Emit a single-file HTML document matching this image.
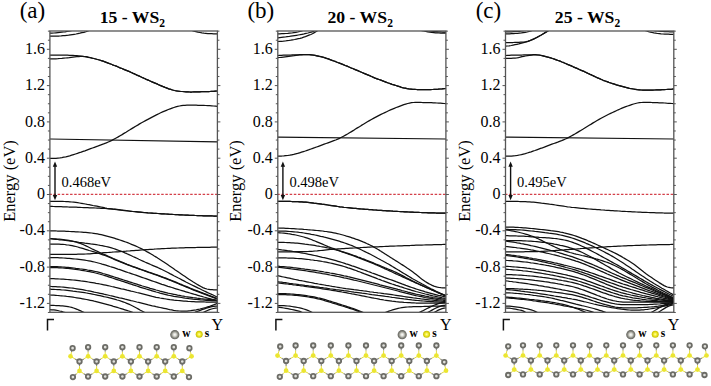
<!DOCTYPE html><html><head><meta charset="utf-8"><style>html,body{margin:0;padding:0;background:#fff;width:711px;height:386px;overflow:hidden}svg{display:block}text{font-family:"Liberation Serif",serif}</style></head><body>
<svg width="711" height="386" viewBox="0 0 711 386">
<defs>
<clipPath id="clipa"><rect x="49.9" y="31.0" width="167.5" height="281.3"/></clipPath>
<clipPath id="clipb"><rect x="277.8" y="31.0" width="168.1" height="281.3"/></clipPath>
<clipPath id="clipc"><rect x="505.5" y="31.0" width="168.3" height="281.3"/></clipPath>
<radialGradient id="gW" cx="0.5" cy="0.5" r="0.5"><stop offset="0" stop-color="#ffffff"/><stop offset="0.35" stop-color="#d8d8d0"/><stop offset="0.7" stop-color="#8a8a82"/><stop offset="1" stop-color="#5e5e58"/></radialGradient>
<radialGradient id="gS" cx="0.5" cy="0.5" r="0.5"><stop offset="0" stop-color="#ffffb0"/><stop offset="0.45" stop-color="#f4ee30"/><stop offset="1" stop-color="#c4bc00"/></radialGradient>
</defs>
<text x="19.7" y="17.7" font-size="23">(a)</text>
<text x="99.7" y="22.8" font-size="17.7" font-weight="bold">15 - WS<tspan font-size="11.5" dy="4">2</tspan></text>
<g clip-path="url(#clipa)" fill="none" stroke="#111" stroke-width="1.25" stroke-linecap="round" stroke-linejoin="round">
<path d="M49.9 33.2 L51.9 33.1 L53.9 33.0 L55.9 32.8 L57.9 32.6 L59.9 32.4 L61.9 32.2 L63.6 32.0 L65.2 31.8 L66.9 31.5 L68.6 31.2 L70.2 30.9 L71.9 30.5 L73.9 29.9 L75.9 29.3 L77.9 28.6 L79.9 27.8 L81.9 27.0"/>
<path d="M49.9 36.1 L51.8 36.1 L53.6 36.1 L55.5 36.1 L57.4 36.0 L59.3 36.0 L61.2 35.9 L63.0 35.7 L64.9 35.6 L66.8 35.4 L68.6 35.2 L70.5 34.9 L72.3 34.6 L74.2 34.3 L76.0 34.0 L77.9 33.6 L79.9 33.2 L81.9 32.7 L83.9 32.3 L85.9 31.7 L87.9 31.0 L89.9 30.2 L91.9 29.2 L93.9 28.2 L95.9 27.0"/>
<path d="M181.9 27.0 L183.9 27.8 L185.9 28.5 L187.9 29.3 L189.9 29.9 L191.9 30.5 L193.9 31.1 L195.9 31.6 L197.9 32.1 L199.9 32.5 L201.9 32.9 L203.9 33.2 L205.8 33.4 L207.8 33.6 L209.7 33.7 L211.7 33.7 L213.6 33.8 L215.6 33.8 L217.5 33.8"/>
<path d="M49.9 55.1 L51.9 55.1 L53.9 55.1 L55.9 55.1 L57.9 55.1 L59.9 55.1 L61.9 55.1 L63.8 55.1 L65.6 55.2 L67.5 55.2 L69.3 55.3 L71.2 55.3 L73.0 55.4 L74.9 55.5 L76.8 55.6 L78.7 55.8 L80.6 56.0 L82.5 56.3 L84.4 56.6 L86.3 56.9 L88.2 57.3 L90.0 57.6 L91.9 58.1 L93.8 58.5 L95.7 59.0 L97.5 59.5 L99.4 60.0 L101.3 60.6 L103.1 61.2 L105.0 61.9 L106.9 62.6 L108.8 63.3 L110.7 64.0 L112.5 64.8 L114.4 65.5 L116.3 66.2 L118.2 67.0 L120.1 67.8 L121.9 68.5 L123.8 69.3 L125.7 70.1 L127.6 70.9 L129.5 71.7 L131.3 72.5 L133.2 73.4 L135.1 74.2 L137.0 75.1 L138.8 75.9 L140.7 76.8 L142.6 77.7 L144.5 78.5 L146.3 79.4 L148.2 80.2 L150.1 81.0 L152.0 81.8 L153.8 82.6 L155.7 83.4 L157.6 84.2 L159.5 85.1 L161.3 85.8 L163.2 86.6 L165.1 87.4 L167.0 88.1 L168.8 88.8 L170.7 89.4 L172.6 90.0 L174.5 90.5 L176.5 90.9 L178.4 91.2 L180.3 91.4 L182.2 91.5 L184.2 91.7 L186.1 91.8 L188.0 91.9 L190.0 92.0 L191.9 92.0 L193.8 91.9 L195.7 91.9 L197.7 91.9 L199.6 91.8 L201.6 91.7 L203.6 91.7 L205.5 91.6 L207.5 91.5 L209.5 91.5 L211.5 91.4 L213.4 91.3 L215.4 91.1 L217.4 91.0"/>
<path d="M49.9 58.9 L51.9 58.9 L53.9 58.8 L55.9 58.8 L57.9 58.7 L59.9 58.5 L61.9 58.4 L63.8 58.2 L65.6 58.0 L67.5 57.8 L69.3 57.6 L71.2 57.3 L73.0 57.1 L74.9 56.9 L76.8 56.7 L78.7 56.6 L80.6 56.4 L82.5 56.4 L84.4 56.5 L86.3 56.7 L88.2 57.1 L90.0 57.5 L91.9 58.0 L93.8 58.5 L95.7 59.0 L97.5 59.5 L99.4 60.0 L101.3 60.6 L103.1 61.2 L105.0 61.9 L106.9 62.6 L108.8 63.3 L110.7 64.0 L112.5 64.8 L114.4 65.5 L116.3 66.2 L118.2 67.0 L120.1 67.8 L121.9 68.5 L123.8 69.3 L125.7 70.1 L127.6 70.9 L129.5 71.7 L131.3 72.5 L133.2 73.4 L135.1 74.2 L137.0 75.1 L138.8 75.9 L140.7 76.8 L142.6 77.7 L144.5 78.5 L146.3 79.4 L148.2 80.2 L150.1 81.0 L152.0 81.8 L153.8 82.6 L155.7 83.4 L157.6 84.2 L159.5 85.1 L161.3 85.8 L163.2 86.6 L165.1 87.4 L167.0 88.1 L168.8 88.8 L170.7 89.4 L172.6 90.0 L174.5 90.5 L176.5 90.9 L178.4 91.2 L180.3 91.4 L182.2 91.5 L184.2 91.7 L186.1 91.8 L188.0 91.9 L190.0 92.0 L191.9 92.0 L193.8 91.9 L195.7 91.9 L197.7 91.9 L199.6 91.8 L201.6 91.7 L203.6 91.7 L205.5 91.6 L207.5 91.5 L209.5 91.5 L211.5 91.4 L213.4 91.3 L215.4 91.1 L217.4 91.0"/>
<path d="M49.9 158.4 L51.9 158.4 L53.9 158.4 L55.9 158.3 L57.9 158.1 L59.9 157.9 L61.9 157.6 L63.8 157.2 L65.8 156.8 L67.8 156.3 L69.7 155.8 L71.7 155.2 L73.6 154.6 L75.5 154.0 L77.4 153.4 L79.3 152.7 L81.2 152.1 L83.1 151.4 L84.9 150.8 L86.8 150.1 L88.7 149.4 L90.6 148.7 L92.5 148.0 L94.4 147.3 L96.3 146.6 L98.3 145.9 L100.3 145.1 L102.3 144.4 L104.3 143.7 L106.3 142.9 L108.3 142.0 L110.3 141.1 L112.3 140.1 L114.3 139.0 L116.2 138.0 L118.2 136.9 L120.1 135.7 L122.1 134.6 L124.0 133.4 L126.0 132.2 L127.9 131.0 L129.9 129.8 L131.8 128.6 L133.8 127.4 L135.7 126.2 L137.7 125.1 L139.6 123.9 L141.6 122.8 L143.5 121.7 L145.5 120.6 L147.4 119.6 L149.3 118.6 L151.2 117.6 L153.1 116.6 L155.0 115.6 L156.9 114.6 L158.8 113.7 L160.7 112.8 L162.6 111.9 L164.5 111.1 L166.4 110.3 L168.3 109.5 L170.2 108.8 L172.1 108.1 L173.9 107.5 L175.8 106.9 L177.6 106.4 L179.5 106.0 L181.3 105.7 L183.2 105.4 L185.0 105.3 L186.9 105.2 L188.8 105.2 L190.6 105.2 L192.5 105.2 L194.3 105.2 L196.2 105.2 L198.0 105.3 L199.9 105.3 L201.8 105.4 L203.8 105.4 L205.7 105.5 L207.7 105.6 L209.6 105.7 L211.6 105.8 L213.5 106.0 L215.5 106.1 L217.4 106.3"/>
<path d="M49.90 139.00 L217.50 141.80"/>
<path d="M49.9 201.3 L51.7 201.3 L53.5 201.3 L55.4 201.3 L57.2 201.3 L59.0 201.3 L60.8 201.4 L62.6 201.4 L64.4 201.5 L66.3 201.6 L68.1 201.7 L69.9 201.8 L71.8 202.0 L73.7 202.2 L75.7 202.4 L77.6 202.7 L79.5 203.0 L81.4 203.3 L83.4 203.7 L85.3 204.0 L87.2 204.4 L89.1 204.7 L91.1 205.1 L93.0 205.5 L94.9 205.8 L96.9 206.2 L98.9 206.6 L100.9 207.0 L102.9 207.4 L104.9 207.9 L106.9 208.3 L108.9 208.6 L110.9 208.9 L112.9 209.2 L114.8 209.4 L116.8 209.7 L118.7 209.9 L120.7 210.1 L122.6 210.4 L124.6 210.6 L126.5 210.8 L128.5 211.0 L130.4 211.3 L132.4 211.5 L134.3 211.7 L136.2 211.9 L138.2 212.1 L140.2 212.2 L142.1 212.4 L144.1 212.6 L146.0 212.7 L147.9 212.9 L149.9 213.0 L151.9 213.1 L153.9 213.3 L155.9 213.4 L157.9 213.5 L159.8 213.6 L161.8 213.8 L163.8 213.9 L165.8 214.0 L167.8 214.1 L169.8 214.3 L171.8 214.4 L173.8 214.5 L175.7 214.6 L177.7 214.7 L179.7 214.8 L181.7 214.9 L183.7 215.0 L185.7 215.1 L187.7 215.2 L189.7 215.3 L191.7 215.4 L193.6 215.4 L195.6 215.5 L197.6 215.6 L199.6 215.7 L201.6 215.7 L203.6 215.8 L205.6 215.8 L207.6 215.9 L209.5 215.9 L211.5 215.9 L213.5 216.0 L215.5 216.0 L217.5 216.0"/>
<path d="M49.9 206.4 L51.8 206.4 L53.6 206.5 L55.5 206.6 L57.4 206.6 L59.3 206.7 L61.2 206.7 L63.0 206.8 L64.9 206.8 L66.8 206.9 L68.7 207.0 L70.5 207.0 L72.4 207.1 L74.3 207.2 L76.2 207.2 L78.0 207.3 L79.9 207.4 L81.8 207.5 L83.8 207.6 L85.7 207.6 L87.7 207.7 L89.6 207.8 L91.5 207.8 L93.5 207.9 L95.4 208.0 L97.3 208.1 L99.3 208.2 L101.2 208.3 L103.2 208.4 L105.1 208.5 L107.0 208.6 L109.0 208.8 L110.9 208.9 L112.9 209.1 L114.8 209.2 L116.8 209.4 L118.7 209.6 L120.7 209.9 L122.6 210.1 L124.6 210.3 L126.5 210.5 L128.5 210.8 L130.4 211.0 L132.4 211.3 L134.3 211.5 L136.2 211.7 L138.2 211.9 L140.2 212.1 L142.1 212.3 L144.1 212.5 L146.0 212.7 L147.9 212.9 L149.9 213.0 L151.9 213.1 L153.9 213.3 L155.9 213.4 L157.9 213.5 L159.8 213.6 L161.8 213.8 L163.8 213.9 L165.8 214.0 L167.8 214.1 L169.8 214.3 L171.8 214.4 L173.8 214.5 L175.7 214.6 L177.7 214.7 L179.7 214.8 L181.7 214.9 L183.7 215.0 L185.7 215.1 L187.7 215.2 L189.7 215.3 L191.7 215.4 L193.6 215.4 L195.6 215.5 L197.6 215.6 L199.6 215.7 L201.6 215.7 L203.6 215.8 L205.6 215.8 L207.6 215.9 L209.5 215.9 L211.5 215.9 L213.5 216.0 L215.5 216.0 L217.5 216.0"/>
<path d="M49.9 230.8 L51.7 230.8 L53.5 230.9 L55.4 230.9 L57.2 231.0 L59.0 231.0 L60.8 231.1 L62.6 231.1 L64.4 231.2 L66.3 231.3 L68.1 231.4 L69.9 231.5 L71.9 231.6 L73.9 231.7 L75.8 231.8 L77.8 231.9 L79.8 232.0 L81.8 232.1 L83.7 232.3 L85.7 232.4 L87.7 232.6 L89.7 232.8 L91.6 233.0 L93.6 233.3 L95.6 233.6 L97.5 233.9 L99.3 234.3 L101.2 234.7 L103.1 235.1 L104.9 235.6 L106.8 236.1 L108.7 236.6 L110.6 237.1 L112.4 237.6 L114.3 238.2 L116.2 238.8 L118.0 239.4 L119.9 240.0 L121.8 240.6 L123.8 241.3 L125.7 242.0 L127.6 242.7 L129.6 243.5 L131.5 244.3 L133.5 245.1 L135.4 245.9 L137.3 246.8 L139.3 247.7 L141.2 248.6 L143.1 249.5 L144.9 250.5 L146.8 251.6 L148.7 252.6 L150.6 253.7 L152.4 254.8 L154.3 256.0 L156.2 257.1 L158.0 258.3 L159.9 259.5 L161.8 260.7 L163.8 262.0 L165.7 263.3 L167.6 264.6 L169.6 266.0 L171.5 267.3 L173.4 268.6 L175.3 270.0 L177.3 271.3 L179.2 272.6 L181.2 273.9 L183.1 275.3 L185.1 276.6 L187.1 278.0 L189.0 279.3 L191.0 280.6 L192.9 281.8 L194.9 283.0 L196.9 284.2 L198.9 285.4 L200.9 286.5 L202.9 287.6 L204.9 288.4 L206.9 289.0 L208.7 289.3 L210.4 289.6 L212.2 289.7 L213.9 289.8 L215.7 289.8 L217.4 289.8"/>
<path d="M49.9 254.4 L51.8 254.4 L53.6 254.4 L55.5 254.4 L57.4 254.4 L59.3 254.4 L61.2 254.4 L63.0 254.4 L64.9 254.4 L66.8 254.4 L68.7 254.4 L70.5 254.3 L72.4 254.3 L74.3 254.3 L76.2 254.3 L78.0 254.2 L79.9 254.2 L81.9 254.1 L83.9 254.1 L85.9 254.0 L87.9 253.9 L89.9 253.8 L91.9 253.6 L93.9 253.5 L95.9 253.3 L97.9 253.2 L99.9 253.0 L101.9 252.9 L103.9 252.7 L105.9 252.6 L107.9 252.5 L109.9 252.3 L111.9 252.2 L113.9 252.0 L115.9 251.9 L117.9 251.8 L119.9 251.6 L121.9 251.5 L123.9 251.3 L125.9 251.2 L127.9 251.0 L129.9 250.9 L131.9 250.7 L133.9 250.6 L135.9 250.4 L137.9 250.3 L139.9 250.1 L141.9 250.0 L143.9 249.8 L145.9 249.7 L147.9 249.6 L149.9 249.4 L151.9 249.3 L153.9 249.2 L155.9 249.0 L157.9 248.9 L159.9 248.8 L161.9 248.7 L163.9 248.6 L165.9 248.5 L167.9 248.4 L169.9 248.3 L171.9 248.2 L173.8 248.1 L175.8 248.1 L177.8 248.0 L179.8 247.9 L181.8 247.9 L183.8 247.8 L185.7 247.7 L187.7 247.7 L189.7 247.6 L191.7 247.6 L193.7 247.5 L195.7 247.5 L197.7 247.4 L199.6 247.4 L201.6 247.4 L203.6 247.3 L205.6 247.3 L207.6 247.3 L209.6 247.3 L211.5 247.2 L213.5 247.2 L215.5 247.2 L217.5 247.2"/>
<path d="M49.9 238.7 L51.8 238.9 L53.8 239.1 L55.7 239.3 L57.7 239.5 L59.6 239.8 L61.5 240.0 L63.5 240.2 L65.4 240.5 L67.4 240.7 L69.3 241.0 L71.3 241.2 L73.2 241.5 L75.1 241.7 L77.1 242.0 L79.0 242.3 L81.0 242.5 L82.9 242.8 L84.8 243.1 L86.7 243.3 L88.7 243.6 L90.6 243.9 L92.5 244.1 L94.4 244.4 L96.3 244.7 L98.2 245.0 L100.2 245.4 L102.1 245.7 L104.0 246.1 L105.9 246.5 L107.8 246.9 L109.7 247.4 L111.5 247.9 L113.4 248.5 L115.3 249.1 L117.2 249.8 L119.0 250.5 L120.9 251.2 L122.9 252.0 L124.9 252.9 L126.9 253.7 L128.9 254.6 L130.9 255.5 L132.9 256.5 L134.9 257.4 L136.9 258.3 L138.9 259.3 L140.9 260.2 L142.9 261.1 L144.9 262.0 L146.8 262.8 L148.7 263.6 L150.6 264.5 L152.5 265.3 L154.3 266.1 L156.2 266.9 L158.1 267.7 L160.0 268.6 L161.9 269.5 L163.9 270.5 L165.9 271.5 L167.9 272.5 L169.9 273.6 L171.9 274.6 L173.9 275.7 L175.9 276.7 L177.9 277.8 L179.9 278.8 L181.9 279.9 L183.9 280.9 L185.9 282.0 L187.9 283.0 L189.9 284.0 L191.9 285.0 L193.8 285.9 L195.8 286.9 L197.8 287.9 L199.8 288.8 L201.7 289.8 L203.7 290.7 L205.7 291.6 L207.6 292.6 L209.6 293.5 L211.6 294.4 L213.6 295.3 L215.5 296.2 L217.5 297.1"/>
<path d="M49.9 238.7 L51.8 238.7 L53.7 238.8 L55.6 238.8 L57.5 239.0 L59.4 239.1 L61.3 239.3 L63.2 239.5 L65.1 239.8 L67.0 240.1 L68.9 240.4 L70.8 240.8 L72.7 241.2 L74.6 241.7 L76.5 242.2 L78.4 242.8 L80.3 243.4 L82.2 244.2 L84.1 245.0 L86.0 245.9 L87.9 246.8 L89.8 247.7 L91.7 248.7 L93.6 249.6 L95.5 250.5 L97.4 251.4 L99.3 252.3 L101.3 253.2 L103.3 254.1 L105.3 254.9 L107.3 255.8 L109.3 256.7 L111.3 257.6 L113.2 258.5 L115.2 259.3 L117.2 260.2 L119.2 261.0 L121.2 261.9 L123.2 262.7 L125.2 263.5 L127.2 264.3 L129.1 265.0 L131.1 265.8 L133.0 266.5 L134.9 267.2 L136.9 267.9 L138.8 268.6 L140.7 269.3 L142.7 270.0 L144.6 270.6 L146.6 271.3 L148.5 272.0 L150.4 272.6 L152.4 273.3 L154.3 274.0 L156.2 274.7 L158.2 275.4 L160.1 276.1 L162.0 276.8 L164.0 277.5 L165.9 278.2 L167.9 279.0 L169.9 279.8 L171.9 280.6 L173.9 281.4 L175.9 282.2 L177.9 283.0 L179.9 283.9 L181.9 284.7 L183.9 285.6 L185.9 286.4 L187.9 287.2 L189.9 288.0 L191.9 288.8 L193.8 289.6 L195.8 290.3 L197.8 291.1 L199.8 291.9 L201.7 292.6 L203.7 293.4 L205.7 294.1 L207.6 294.9 L209.6 295.6 L211.6 296.4 L213.6 297.1 L215.5 297.9 L217.5 298.6"/>
<path d="M49.9 244.0 L51.7 244.0 L53.6 244.0 L55.4 244.0 L57.3 244.1 L59.1 244.2 L61.0 244.3 L62.8 244.4 L64.7 244.5 L66.5 244.8 L68.4 245.0 L70.2 245.3 L72.1 245.7 L74.0 246.1 L75.9 246.5 L77.8 247.0 L79.7 247.6 L81.6 248.1 L83.5 248.7 L85.4 249.3 L87.3 249.9 L89.2 250.5 L91.1 251.0 L93.0 251.6 L95.0 252.2 L97.0 252.8 L99.0 253.4 L100.9 254.1 L102.9 254.8 L104.9 255.5 L106.8 256.2 L108.6 257.0 L110.5 257.7 L112.3 258.5 L114.2 259.3 L116.0 260.1 L117.9 260.8 L119.8 261.6 L121.6 262.4 L123.5 263.1 L125.3 263.9 L127.2 264.6 L129.1 265.3 L131.1 266.0 L133.0 266.8 L134.9 267.5 L136.9 268.2 L138.8 268.8 L140.7 269.5 L142.7 270.2 L144.6 270.9 L146.6 271.6 L148.5 272.3 L150.4 273.0 L152.4 273.6 L154.3 274.3 L156.2 275.0 L158.2 275.7 L160.1 276.4 L162.0 277.1 L164.0 277.9 L165.9 278.6 L167.9 279.4 L169.9 280.2 L171.9 281.0 L173.9 281.8 L175.9 282.7 L177.9 283.5 L179.9 284.4 L181.9 285.2 L183.9 286.0 L185.9 286.9 L187.9 287.7 L189.9 288.5 L191.9 289.3 L193.8 290.1 L195.8 290.8 L197.8 291.6 L199.8 292.3 L201.7 293.1 L203.7 293.9 L205.7 294.6 L207.6 295.4 L209.6 296.1 L211.6 296.8 L213.6 297.6 L215.5 298.3 L217.5 299.0"/>
<path d="M49.9 257.6 L51.8 257.6 L53.8 257.6 L55.7 257.7 L57.7 257.7 L59.6 257.8 L61.5 257.9 L63.5 258.0 L65.4 258.1 L67.4 258.3 L69.3 258.4 L71.3 258.6 L73.2 258.8 L75.1 259.0 L77.1 259.2 L79.0 259.4 L81.0 259.6 L82.9 259.9 L84.8 260.2 L86.7 260.5 L88.7 260.8 L90.6 261.2 L92.5 261.6 L94.4 262.0 L96.3 262.5 L98.2 263.0 L100.2 263.5 L102.1 264.1 L104.0 264.6 L105.9 265.2 L107.9 265.8 L109.9 266.5 L111.9 267.1 L113.9 267.7 L115.9 268.4 L117.9 269.1 L119.9 269.7 L121.9 270.4 L123.9 271.1 L125.9 271.8 L127.9 272.5 L129.9 273.1 L131.9 273.8 L133.9 274.5 L135.9 275.2 L137.9 275.9 L139.9 276.6 L141.9 277.3 L143.9 278.0 L145.9 278.7 L147.9 279.4 L149.9 280.1 L151.9 280.8 L153.9 281.5 L155.9 282.2 L157.9 282.9 L159.9 283.6 L161.9 284.3 L163.9 284.9 L165.9 285.6 L167.9 286.3 L169.9 286.9 L171.9 287.5 L173.9 288.2 L175.9 288.8 L177.9 289.4 L179.9 290.0 L181.9 290.6 L183.9 291.2 L185.9 291.8 L187.9 292.4 L189.9 293.0 L191.9 293.6 L193.8 294.2 L195.8 294.7 L197.8 295.3 L199.8 295.9 L201.7 296.4 L203.7 297.0 L205.7 297.5 L207.6 298.1 L209.6 298.6 L211.6 299.2 L213.6 299.7 L215.5 300.3 L217.5 300.8"/>
<path d="M49.9 266.6 L51.7 266.6 L53.5 266.6 L55.4 266.7 L57.2 266.7 L59.0 266.8 L60.8 266.9 L62.6 267.0 L64.4 267.1 L66.3 267.3 L68.1 267.4 L69.9 267.6 L71.9 267.8 L73.8 268.0 L75.8 268.3 L77.8 268.5 L79.7 268.8 L81.7 269.0 L83.7 269.3 L85.7 269.6 L87.6 270.0 L89.6 270.3 L91.6 270.7 L93.5 271.1 L95.5 271.5 L97.4 271.9 L99.3 272.4 L101.1 272.9 L103.0 273.5 L104.9 274.0 L106.8 274.6 L108.6 275.2 L110.5 275.8 L112.4 276.4 L114.3 277.0 L116.1 277.6 L118.0 278.2 L119.9 278.8 L121.8 279.4 L123.7 280.0 L125.5 280.6 L127.4 281.2 L129.3 281.8 L131.2 282.4 L133.1 283.0 L134.9 283.6 L136.8 284.2 L138.7 284.8 L140.6 285.4 L142.4 286.0 L144.3 286.5 L146.2 287.1 L148.2 287.7 L150.1 288.3 L152.1 288.8 L154.1 289.4 L156.1 290.0 L158.1 290.5 L160.0 291.1 L162.0 291.6 L164.0 292.1 L165.9 292.6 L167.9 293.1 L169.9 293.5 L171.8 293.9 L173.8 294.3 L175.7 294.7 L177.6 295.1 L179.5 295.4 L181.5 295.8 L183.4 296.1 L185.3 296.5 L187.3 296.8 L189.2 297.1 L191.1 297.4 L193.0 297.7 L195.0 297.9 L196.9 298.2 L198.8 298.4 L200.6 298.7 L202.5 298.9 L204.4 299.1 L206.2 299.2 L208.1 299.4 L209.9 299.5 L211.8 299.7 L213.7 299.8 L215.5 299.9 L217.4 300.0"/>
<path d="M49.9 267.6 L51.7 267.6 L53.5 267.6 L55.4 267.7 L57.2 267.7 L59.0 267.8 L60.8 267.9 L62.6 268.0 L64.4 268.2 L66.3 268.3 L68.1 268.5 L69.9 268.7 L71.9 268.9 L73.8 269.2 L75.8 269.4 L77.8 269.7 L79.7 270.0 L81.7 270.3 L83.7 270.6 L85.7 271.0 L87.6 271.3 L89.6 271.7 L91.6 272.1 L93.5 272.5 L95.5 273.0 L97.4 273.5 L99.3 274.0 L101.1 274.5 L103.0 275.0 L104.9 275.6 L106.8 276.2 L108.6 276.8 L110.5 277.4 L112.4 278.0 L114.3 278.7 L116.1 279.3 L118.0 279.9 L119.9 280.5 L121.8 281.1 L123.7 281.7 L125.5 282.3 L127.4 282.9 L129.3 283.6 L131.2 284.2 L133.1 284.8 L134.9 285.4 L136.8 286.0 L138.7 286.6 L140.6 287.3 L142.4 287.8 L144.3 288.4 L146.2 289.0 L148.2 289.6 L150.1 290.2 L152.1 290.8 L154.1 291.4 L156.1 292.0 L158.1 292.5 L160.0 293.1 L162.0 293.6 L164.0 294.1 L165.9 294.6 L167.9 295.1 L169.9 295.5 L171.8 295.9 L173.8 296.3 L175.7 296.6 L177.6 296.9 L179.5 297.2 L181.5 297.5 L183.4 297.8 L185.3 298.1 L187.3 298.3 L189.2 298.6 L191.1 298.8 L193.0 299.1 L195.0 299.3 L196.9 299.5 L198.8 299.7 L200.6 299.9 L202.5 300.0 L204.4 300.2 L206.2 300.3 L208.1 300.4 L209.9 300.5 L211.8 300.6 L213.7 300.7 L215.5 300.7 L217.4 300.8"/>
<path d="M49.9 278.6 L51.8 278.6 L53.7 278.7 L55.7 278.8 L57.6 278.9 L59.5 279.0 L61.4 279.1 L63.4 279.2 L65.3 279.3 L67.2 279.5 L69.1 279.6 L71.1 279.8 L73.0 280.0 L74.9 280.2 L76.8 280.4 L78.8 280.6 L80.7 280.9 L82.6 281.1 L84.6 281.4 L86.5 281.7 L88.4 282.0 L90.3 282.3 L92.3 282.6 L94.2 282.9 L96.1 283.3 L98.1 283.6 L100.0 284.0 L101.9 284.4 L103.9 284.8 L105.8 285.2 L107.8 285.6 L109.7 286.0 L111.6 286.5 L113.6 286.9 L115.5 287.4 L117.5 287.8 L119.4 288.3 L121.3 288.8 L123.3 289.2 L125.2 289.7 L127.1 290.2 L129.1 290.6 L131.0 291.1 L133.0 291.5 L134.9 292.0 L136.8 292.5 L138.8 292.9 L140.7 293.4 L142.6 293.9 L144.6 294.4 L146.5 294.9 L148.4 295.4 L150.3 295.9 L152.3 296.4 L154.2 296.8 L156.1 297.3 L158.1 297.6 L160.0 298.0 L162.0 298.3 L164.0 298.7 L166.0 299.0 L168.0 299.3 L170.0 299.6 L172.0 299.8 L174.0 300.1 L175.9 300.3 L177.9 300.5 L179.9 300.7 L181.9 300.9 L183.9 301.1 L185.9 301.2 L187.9 301.4 L189.9 301.5 L191.9 301.6 L193.8 301.7 L195.8 301.8 L197.8 301.8 L199.7 301.9 L201.7 301.9 L203.7 301.9 L205.6 302.0 L207.6 302.0 L209.5 302.0 L211.5 302.0 L213.5 302.0 L215.4 302.0 L217.4 302.0"/>
<path d="M49.9 286.4 L51.8 286.5 L53.7 286.5 L55.7 286.6 L57.6 286.8 L59.5 286.9 L61.4 287.0 L63.4 287.2 L65.3 287.4 L67.2 287.6 L69.1 287.8 L71.1 288.0 L73.0 288.2 L74.9 288.5 L76.8 288.8 L78.8 289.1 L80.7 289.4 L82.6 289.7 L84.6 290.1 L86.5 290.5 L88.4 290.8 L90.3 291.2 L92.3 291.6 L94.2 292.1 L96.1 292.5 L98.1 292.9 L100.0 293.3 L101.9 293.7 L103.9 294.2 L105.8 294.6 L107.8 295.0 L109.7 295.5 L111.6 295.9 L113.6 296.4 L115.5 296.9 L117.5 297.3 L119.4 297.8 L121.3 298.2 L123.3 298.7 L125.2 299.2 L127.1 299.6 L129.1 300.1 L131.0 300.6 L133.0 301.0 L134.9 301.5 L136.8 302.0 L138.8 302.4 L140.7 302.9 L142.6 303.4 L144.6 303.9 L146.5 304.4 L148.4 304.9 L150.3 305.3 L152.3 305.8 L154.2 306.2 L156.1 306.7 L158.1 307.1 L160.0 307.5 L161.9 307.9 L163.9 308.3 L165.8 308.7 L167.8 309.2 L169.7 309.6 L171.7 309.9 L173.6 310.3 L175.5 310.6 L177.5 310.8 L179.4 311.0 L181.4 311.2 L183.3 311.2 L185.1 311.2 L187.0 311.1 L188.8 310.9 L190.7 310.7 L192.5 310.4 L194.4 310.1 L196.2 309.8 L198.1 309.4 L199.9 309.0 L201.8 308.5 L203.8 308.0 L205.7 307.5 L207.7 306.9 L209.6 306.3 L211.6 305.6 L213.5 304.9 L215.5 304.1 L217.4 303.3"/>
<path d="M49.9 289.2 L51.8 289.3 L53.7 289.4 L55.7 289.5 L57.6 289.6 L59.5 289.7 L61.4 289.9 L63.4 290.0 L65.3 290.2 L67.2 290.4 L69.1 290.6 L71.1 290.8 L73.0 291.1 L74.9 291.3 L76.8 291.6 L78.8 291.8 L80.7 292.1 L82.6 292.4 L84.6 292.7 L86.5 293.0 L88.4 293.4 L90.3 293.7 L92.3 294.1 L94.2 294.5 L96.1 294.9 L98.1 295.3 L100.0 295.7 L101.9 296.1 L103.8 296.6 L105.7 297.0 L107.7 297.4 L109.6 297.9 L111.5 298.4 L113.4 298.9 L115.3 299.4 L117.2 300.0 L119.2 300.5 L121.1 301.2 L123.0 301.8 L124.9 302.5 L126.8 303.3 L128.8 304.1 L130.7 305.0 L132.7 306.0 L134.6 307.0 L136.5 308.0 L138.5 309.1 L140.4 310.2 L142.4 311.2 L144.3 312.3 L146.2 313.4 L148.0 314.7 L149.9 316.0"/>
<path d="M49.9 295.0 L51.8 295.1 L53.7 295.2 L55.7 295.3 L57.6 295.5 L59.5 295.7 L61.4 295.8 L63.4 296.0 L65.3 296.2 L67.2 296.5 L69.1 296.7 L71.1 296.9 L73.0 297.2 L74.9 297.5 L76.8 297.8 L78.8 298.1 L80.7 298.4 L82.6 298.8 L84.6 299.2 L86.5 299.5 L88.4 299.9 L90.3 300.3 L92.3 300.7 L94.2 301.2 L96.1 301.6 L98.1 302.1 L100.0 302.6 L101.9 303.1 L103.8 303.6 L105.7 304.1 L107.6 304.6 L109.6 305.2 L111.5 305.7 L113.4 306.3 L115.3 306.8 L117.2 307.4 L119.1 308.0 L121.0 308.6 L122.9 309.2 L124.9 309.8 L126.8 310.4 L128.7 311.0 L130.6 311.7 L132.5 312.3 L134.3 313.0 L136.2 314.0 L138.1 315.0 L139.9 316.0"/>
<path d="M49.9 305.4 L51.7 305.4 L53.5 305.4 L55.4 305.5 L57.2 305.5 L59.0 305.6 L60.8 305.8 L62.6 305.9 L64.4 306.1 L66.3 306.4 L68.1 306.7 L69.9 307.0 L71.7 307.4 L73.5 308.0 L75.3 308.6 L77.1 309.3 L78.9 310.1 L80.7 310.9 L82.5 311.7 L84.3 312.5 L86.2 313.5 L88.0 314.7 L89.9 316.0"/>
<path d="M49.9 309.7 L51.8 309.8 L53.8 309.9 L55.7 310.2 L57.7 310.5 L59.6 311.0 L61.5 311.4 L63.5 312.0 L65.4 312.5 L67.0 313.1 L68.7 314.0 L70.3 315.0 L71.9 316.0"/>
<path d="M189.9 316.0 L191.7 314.5 L193.4 313.2 L195.2 312.2 L197.1 311.5 L198.9 310.8 L200.8 310.1 L202.6 309.4 L204.5 308.8 L206.3 308.2 L208.2 307.6 L210.0 307.1 L211.9 306.7 L213.7 306.4 L215.6 306.2 L217.4 306.1"/>
<path d="M198.9 316.0 L200.5 314.5 L202.0 313.2 L203.6 312.2 L205.6 311.3 L207.5 310.5 L209.5 309.7 L211.5 309.0 L213.5 308.5 L215.4 308.1 L217.4 308.0"/>
</g>
<line x1="49.35" y1="194.3" x2="217.40" y2="194.3" stroke="#d4404a" stroke-width="1.2" stroke-dasharray="2.5 1.6425"/>
<rect x="49.90" y="31.00" width="167.50" height="281.30" fill="none" stroke="#555" stroke-width="1.3"/>
<text x="44.9" y="308.0" font-size="16" text-anchor="end">-1.2</text>
<text x="44.9" y="271.7" font-size="16" text-anchor="end">-0.8</text>
<text x="44.9" y="235.4" font-size="16" text-anchor="end">-0.4</text>
<text x="44.9" y="199.1" font-size="16" text-anchor="end">0</text>
<text x="44.9" y="162.8" font-size="16" text-anchor="end">0.4</text>
<text x="44.9" y="126.5" font-size="16" text-anchor="end">0.8</text>
<text x="44.9" y="90.2" font-size="16" text-anchor="end">1.2</text>
<text x="44.9" y="53.9" font-size="16" text-anchor="end">1.6</text>
<path d="M47.90 312.48H49.90M217.40 312.48H219.40M46.90 303.40H49.90M217.40 303.40H220.40M47.90 294.32H49.90M217.40 294.32H219.40M47.90 285.25H49.90M217.40 285.25H219.40M47.90 276.18H49.90M217.40 276.18H219.40M46.90 267.10H49.90M217.40 267.10H220.40M47.90 258.02H49.90M217.40 258.02H219.40M47.90 248.95H49.90M217.40 248.95H219.40M47.90 239.88H49.90M217.40 239.88H219.40M46.90 230.80H49.90M217.40 230.80H220.40M47.90 221.72H49.90M217.40 221.72H219.40M47.90 212.65H49.90M217.40 212.65H219.40M47.90 203.57H49.90M217.40 203.57H219.40M46.90 194.50H49.90M217.40 194.50H220.40M47.90 185.43H49.90M217.40 185.43H219.40M47.90 176.35H49.90M217.40 176.35H219.40M47.90 167.28H49.90M217.40 167.28H219.40M46.90 158.20H49.90M217.40 158.20H220.40M47.90 149.12H49.90M217.40 149.12H219.40M47.90 140.05H49.90M217.40 140.05H219.40M47.90 130.97H49.90M217.40 130.97H219.40M46.90 121.90H49.90M217.40 121.90H220.40M47.90 112.83H49.90M217.40 112.83H219.40M47.90 103.75H49.90M217.40 103.75H219.40M47.90 94.67H49.90M217.40 94.67H219.40M46.90 85.60H49.90M217.40 85.60H220.40M47.90 76.52H49.90M217.40 76.52H219.40M47.90 67.45H49.90M217.40 67.45H219.40M47.90 58.38H49.90M217.40 58.38H219.40M46.90 49.30H49.90M217.40 49.30H220.40M47.90 40.22H49.90M217.40 40.22H219.40M47.90 31.15H49.90M217.40 31.15H219.40" stroke="#555" stroke-width="1"/>
<text transform="translate(14.5 181.0) rotate(-90)" font-size="16.5" text-anchor="middle">Energy (eV)</text>
<line x1="55.0" y1="164.5" x2="55.0" y2="197" stroke="#111" stroke-width="1.4"/>
<path d="M55.0 161.6 L52.8 166.8 L57.2 166.8Z M55.0 200.3 L52.8 195.1 L57.2 195.1Z" fill="#111"/>
<text x="61.5" y="186.8" font-size="14.5">0.468eV</text>
<path d="M47.5 330.4V319.6H54.0" fill="none" stroke="#111" stroke-width="1.5"/>
<text x="211.4" y="329.8" font-size="16">Y</text>
<text x="247.4" y="17.7" font-size="23">(b)</text>
<text x="327.5" y="22.8" font-size="17.7" font-weight="bold">20 - WS<tspan font-size="11.5" dy="4">2</tspan></text>
<g clip-path="url(#clipb)" fill="none" stroke="#111" stroke-width="1.25" stroke-linecap="round" stroke-linejoin="round">
<path d="M277.8 33.8 L279.8 33.8 L281.8 33.7 L283.8 33.6 L285.8 33.5 L287.8 33.4 L289.8 33.2 L291.8 33.0 L293.8 32.7 L295.8 32.4 L297.8 32.0 L299.8 31.5 L301.8 30.8 L303.8 30.0 L305.8 29.1 L307.8 28.1 L309.8 27.0"/>
<path d="M277.8 37.8 L279.7 37.6 L281.5 37.4 L283.4 37.2 L285.3 37.0 L287.1 36.7 L289.0 36.5 L290.8 36.2 L292.7 35.9 L294.6 35.6 L296.4 35.3 L298.3 35.0 L300.2 34.7 L302.1 34.3 L304.1 33.9 L306.0 33.4 L307.9 33.0 L309.8 32.5 L311.3 32.1 L312.7 31.7 L314.2 31.0 L316.1 29.9 L317.9 28.6 L319.8 27.0"/>
<path d="M277.8 41.5 L279.7 41.4 L281.5 41.3 L283.4 41.2 L285.3 41.0 L287.1 40.7 L289.0 40.5 L290.8 40.2 L292.7 39.8 L294.6 39.5 L296.4 39.1 L298.3 38.7 L300.1 38.3 L301.9 37.8 L303.7 37.2 L305.4 36.6 L307.2 35.9 L309.0 35.2 L310.8 34.5 L312.4 33.8 L313.9 32.9 L315.4 32.0 L317.0 31.0 L318.9 29.7 L320.9 28.4 L322.8 27.0"/>
<path d="M412.8 28.0 L414.6 28.6 L416.5 29.1 L418.3 29.7 L420.1 30.1 L422.0 30.6 L423.8 31.0 L425.8 31.4 L427.8 31.8 L429.8 32.1 L431.8 32.4 L433.8 32.6 L435.5 32.8 L437.3 32.9 L439.0 33.0 L440.7 33.1 L442.4 33.2 L444.2 33.2 L445.9 33.2"/>
<path d="M415.8 28.0 L417.8 28.6 L419.8 29.1 L421.8 29.7 L423.8 30.1 L425.8 30.5 L427.8 30.8 L429.6 31.0 L431.4 31.2 L433.2 31.4 L435.0 31.6 L436.9 31.7 L438.7 31.8 L440.5 31.9 L442.3 32.0 L444.1 32.0 L445.9 32.0"/>
<path d="M277.8 55.5 L279.6 55.4 L281.5 55.3 L283.3 55.2 L285.2 55.2 L287.0 55.1 L288.8 55.0 L290.6 55.0 L292.4 54.9 L294.2 54.9 L296.0 54.9 L297.8 54.8 L299.7 54.7 L301.6 54.7 L303.5 54.6 L305.4 54.5 L307.3 54.5 L309.2 54.6 L311.2 54.8 L313.1 55.0 L315.0 55.4 L316.9 55.8 L318.9 56.2 L320.8 56.7 L322.7 57.2 L324.5 57.7 L326.4 58.3 L328.3 58.9 L330.1 59.6 L332.0 60.3 L333.9 61.0 L335.8 61.7 L337.6 62.5 L339.5 63.2 L341.4 63.9 L343.3 64.7 L345.2 65.5 L347.1 66.2 L349.0 67.0 L350.8 67.8 L352.7 68.5 L354.6 69.3 L356.5 70.1 L358.4 70.9 L360.2 71.7 L362.1 72.5 L364.0 73.3 L365.9 74.1 L367.7 74.9 L369.6 75.7 L371.5 76.5 L373.4 77.3 L375.2 78.1 L377.1 78.8 L379.0 79.5 L380.9 80.2 L382.7 80.9 L384.6 81.6 L386.5 82.3 L388.4 83.0 L390.2 83.6 L392.1 84.3 L394.0 84.9 L395.9 85.5 L397.7 86.1 L399.6 86.7 L401.5 87.3 L403.4 87.8 L405.2 88.2 L407.1 88.6 L409.0 88.9 L410.9 89.1 L412.9 89.3 L414.8 89.4 L416.8 89.5 L418.8 89.5 L420.7 89.6 L422.7 89.6 L424.6 89.6 L426.6 89.6 L428.5 89.6 L430.5 89.6 L432.4 89.5 L434.3 89.4 L436.2 89.3 L438.2 89.2 L440.1 89.0 L442.0 88.9 L444.0 88.7 L445.9 88.5"/>
<path d="M277.8 57.7 L279.6 57.5 L281.5 57.3 L283.3 57.1 L285.2 56.9 L287.0 56.7 L288.8 56.5 L290.6 56.2 L292.4 55.9 L294.2 55.7 L296.0 55.4 L297.8 55.2 L299.7 55.0 L301.6 54.8 L303.5 54.7 L305.4 54.6 L307.3 54.6 L309.2 54.7 L311.2 54.8 L313.1 55.1 L315.0 55.4 L316.9 55.8 L318.9 56.3 L320.8 56.7 L322.7 57.2 L324.5 57.7 L326.4 58.3 L328.3 58.9 L330.1 59.6 L332.0 60.3 L333.9 61.0 L335.8 61.7 L337.6 62.5 L339.5 63.2 L341.4 63.9 L343.3 64.7 L345.2 65.5 L347.1 66.2 L349.0 67.0 L350.8 67.8 L352.7 68.5 L354.6 69.3 L356.5 70.1 L358.4 70.9 L360.2 71.7 L362.1 72.5 L364.0 73.3 L365.9 74.1 L367.7 74.9 L369.6 75.7 L371.5 76.5 L373.4 77.3 L375.2 78.1 L377.1 78.8 L379.0 79.5 L380.9 80.2 L382.7 80.9 L384.6 81.6 L386.5 82.3 L388.4 83.0 L390.2 83.6 L392.1 84.3 L394.0 84.9 L395.9 85.5 L397.7 86.1 L399.6 86.7 L401.5 87.3 L403.4 87.8 L405.2 88.2 L407.1 88.6 L409.0 88.9 L410.9 89.1 L412.9 89.3 L414.8 89.4 L416.8 89.5 L418.8 89.5 L420.7 89.6 L422.7 89.6 L424.6 89.6 L426.6 89.6 L428.5 89.6 L430.5 89.6 L432.4 89.5 L434.3 89.4 L436.2 89.3 L438.2 89.2 L440.1 89.0 L442.0 88.9 L444.0 88.7 L445.9 88.5"/>
<path d="M277.8 156.0 L279.8 156.0 L281.8 156.0 L283.8 155.9 L285.8 155.7 L287.8 155.5 L289.8 155.2 L291.7 154.8 L293.7 154.4 L295.7 153.9 L297.6 153.4 L299.6 152.8 L301.5 152.2 L303.4 151.6 L305.3 151.0 L307.2 150.3 L309.1 149.7 L311.0 149.0 L312.8 148.3 L314.7 147.7 L316.6 147.0 L318.5 146.3 L320.4 145.6 L322.3 144.9 L324.2 144.2 L326.1 143.5 L328.0 142.8 L330.0 142.1 L331.9 141.4 L333.8 140.7 L335.7 140.0 L337.7 139.1 L339.6 138.3 L341.5 137.3 L343.5 136.2 L345.5 135.1 L347.5 134.0 L349.5 132.8 L351.5 131.6 L353.5 130.4 L355.5 129.1 L357.4 127.9 L359.4 126.7 L361.4 125.4 L363.4 124.2 L365.4 123.0 L367.4 121.8 L369.4 120.6 L371.4 119.5 L373.4 118.4 L375.3 117.4 L377.2 116.4 L379.1 115.4 L381.0 114.4 L382.9 113.5 L384.8 112.6 L386.7 111.7 L388.6 110.8 L390.5 109.9 L392.4 109.1 L394.3 108.3 L396.2 107.5 L398.1 106.8 L400.0 106.1 L401.9 105.4 L403.8 104.7 L405.7 104.1 L407.7 103.5 L409.6 103.1 L411.5 102.7 L413.4 102.5 L415.3 102.4 L417.1 102.4 L418.9 102.4 L420.7 102.4 L422.4 102.5 L424.2 102.5 L426.0 102.5 L427.8 102.6 L429.6 102.7 L431.4 102.7 L433.2 102.8 L435.0 102.9 L436.9 103.0 L438.7 103.1 L440.5 103.2 L442.3 103.3 L444.1 103.5 L445.9 103.6"/>
<path d="M277.80 137.10 L445.90 139.00"/>
<path d="M277.8 201.3 L279.8 201.3 L281.8 201.3 L283.8 201.3 L285.8 201.3 L287.8 201.4 L289.8 201.4 L291.8 201.5 L293.8 201.5 L295.8 201.6 L297.8 201.7 L299.8 201.8 L301.8 201.9 L303.8 202.1 L305.8 202.2 L307.8 202.4 L309.8 202.6 L311.8 202.8 L313.8 203.1 L315.8 203.3 L317.8 203.6 L319.8 203.9 L321.8 204.2 L323.8 204.4 L325.8 204.7 L327.8 205.0 L329.8 205.3 L331.8 205.6 L333.8 205.9 L335.8 206.2 L337.8 206.5 L339.8 206.8 L341.8 207.0 L343.8 207.3 L345.8 207.5 L347.8 207.7 L349.8 207.9 L351.7 208.1 L353.7 208.3 L355.6 208.4 L357.6 208.6 L359.6 208.8 L361.5 209.0 L363.5 209.1 L365.5 209.3 L367.4 209.4 L369.4 209.6 L371.3 209.7 L373.3 209.9 L375.3 210.0 L377.2 210.2 L379.2 210.3 L381.1 210.4 L383.1 210.6 L385.1 210.7 L387.0 210.8 L389.0 210.9 L391.0 211.0 L392.9 211.2 L394.9 211.3 L396.8 211.4 L398.8 211.5 L400.8 211.6 L402.7 211.7 L404.7 211.8 L406.6 211.9 L408.6 212.0 L410.6 212.1 L412.5 212.2 L414.5 212.3 L416.5 212.4 L418.4 212.4 L420.4 212.5 L422.4 212.6 L424.3 212.6 L426.3 212.7 L428.2 212.8 L430.2 212.8 L432.2 212.9 L434.1 212.9 L436.1 213.0 L438.0 213.0 L440.0 213.1 L442.0 213.1 L443.9 213.2 L445.9 213.2"/>
<path d="M277.8 201.3 L279.8 201.3 L281.8 201.3 L283.8 201.3 L285.8 201.3 L287.8 201.4 L289.8 201.4 L291.8 201.5 L293.8 201.5 L295.8 201.6 L297.8 201.7 L299.8 201.8 L301.8 201.9 L303.8 202.1 L305.8 202.2 L307.8 202.4 L309.8 202.6 L311.8 202.8 L313.8 203.1 L315.8 203.3 L317.8 203.6 L319.8 203.9 L321.8 204.2 L323.8 204.4 L325.8 204.7 L327.8 205.0 L329.8 205.3 L331.8 205.6 L333.8 205.9 L335.8 206.2 L337.8 206.5 L339.8 206.8 L341.8 207.0 L343.8 207.3 L345.8 207.5 L347.8 207.7 L349.8 207.9 L351.7 208.1 L353.7 208.3 L355.6 208.4 L357.6 208.6 L359.6 208.8 L361.5 209.0 L363.5 209.1 L365.5 209.3 L367.4 209.4 L369.4 209.6 L371.3 209.7 L373.3 209.9 L375.3 210.0 L377.2 210.2 L379.2 210.3 L381.1 210.4 L383.1 210.6 L385.1 210.7 L387.0 210.8 L389.0 210.9 L391.0 211.0 L392.9 211.2 L394.9 211.3 L396.8 211.4 L398.8 211.5 L400.8 211.6 L402.7 211.7 L404.7 211.8 L406.6 211.9 L408.6 212.0 L410.6 212.1 L412.5 212.2 L414.5 212.3 L416.5 212.4 L418.4 212.4 L420.4 212.5 L422.4 212.6 L424.3 212.6 L426.3 212.7 L428.2 212.8 L430.2 212.8 L432.2 212.9 L434.1 212.9 L436.1 213.0 L438.0 213.0 L440.0 213.1 L442.0 213.1 L443.9 213.2 L445.9 213.2"/>
<path d="M277.8 228.0 L279.8 228.1 L281.8 228.1 L283.8 228.2 L285.8 228.3 L287.8 228.4 L289.8 228.5 L291.8 228.6 L293.8 228.7 L295.8 228.8 L297.8 229.0 L299.8 229.1 L301.8 229.2 L303.8 229.4 L305.7 229.5 L307.5 229.7 L309.4 229.8 L311.3 230.0 L313.2 230.1 L315.0 230.3 L316.9 230.5 L318.8 230.6 L320.6 230.8 L322.5 231.0 L324.4 231.3 L326.3 231.5 L328.1 231.8 L330.0 232.1 L331.8 232.4 L333.7 232.8 L335.5 233.2 L337.3 233.6 L339.2 234.0 L341.0 234.5 L342.9 235.0 L344.7 235.5 L346.5 236.1 L348.4 236.6 L350.2 237.2 L352.0 237.8 L353.9 238.4 L355.7 239.1 L357.5 239.7 L359.4 240.4 L361.2 241.1 L363.1 241.9 L364.9 242.6 L366.7 243.5 L368.6 244.3 L370.4 245.2 L372.2 246.1 L374.1 247.2 L375.9 248.2 L377.7 249.3 L379.6 250.4 L381.4 251.6 L383.3 252.7 L385.1 253.9 L386.9 255.1 L388.8 256.2 L390.6 257.4 L392.4 258.6 L394.3 259.7 L396.1 260.9 L397.9 262.0 L399.8 263.2 L401.6 264.4 L403.5 265.6 L405.3 266.8 L407.1 268.0 L409.0 269.2 L410.8 270.5 L412.6 271.8 L414.4 273.2 L416.2 274.6 L418.0 276.0 L419.8 277.5 L421.6 278.9 L423.4 280.2 L425.2 281.5 L427.0 282.6 L428.7 283.6 L430.5 284.5 L432.2 285.4 L433.9 286.1 L435.6 286.7 L437.4 287.2 L439.1 287.5 L440.8 287.7 L442.5 287.8 L444.2 287.8 L445.9 287.8"/>
<path d="M277.8 231.0 L279.8 231.0 L281.8 231.1 L283.8 231.1 L285.8 231.2 L287.8 231.3 L289.8 231.5 L291.8 231.6 L293.8 231.8 L295.8 232.0 L297.8 232.2 L299.8 232.5 L301.8 232.7 L303.8 233.0 L305.7 233.3 L307.5 233.6 L309.4 233.9 L311.3 234.3 L313.2 234.6 L315.0 235.0 L316.9 235.4 L318.8 235.8 L320.6 236.3 L322.5 236.7 L324.4 237.2 L326.3 237.6 L328.1 238.1 L330.0 238.6 L331.8 239.1 L333.7 239.6 L335.5 240.1 L337.3 240.6 L339.2 241.2 L341.0 241.8 L342.9 242.4 L344.7 243.0 L346.5 243.6 L348.4 244.3 L350.2 245.0 L352.0 245.7 L353.9 246.5 L355.7 247.3 L357.5 248.1 L359.4 248.9 L361.2 249.8 L363.1 250.7 L364.9 251.6 L366.7 252.5 L368.6 253.4 L370.4 254.3 L372.2 255.2 L374.1 256.2 L375.9 257.2 L377.7 258.2 L379.6 259.2 L381.4 260.2 L383.3 261.2 L385.1 262.2 L386.9 263.3 L388.8 264.3 L390.6 265.4 L392.4 266.5 L394.3 267.6 L396.1 268.7 L397.9 269.8 L399.8 270.9 L401.6 272.1 L403.5 273.2 L405.3 274.3 L407.1 275.4 L409.0 276.5 L410.8 277.6 L412.6 278.7 L414.5 279.7 L416.3 280.7 L418.1 281.8 L420.0 282.8 L421.8 283.8 L423.7 284.8 L425.5 285.8 L427.3 286.8 L429.2 287.7 L431.0 288.7 L432.9 289.6 L434.7 290.6 L436.6 291.5 L438.4 292.3 L440.3 293.2 L442.2 294.1 L444.0 294.9 L445.9 295.7"/>
<path d="M277.8 232.7 L279.8 232.8 L281.8 233.0 L283.8 233.2 L285.8 233.4 L287.8 233.7 L289.8 233.9 L291.8 234.3 L293.8 234.6 L295.8 235.0 L297.8 235.5 L299.8 236.0 L301.8 236.5 L303.8 237.0 L305.7 237.6 L307.5 238.2 L309.4 238.8 L311.3 239.5 L313.2 240.3 L315.0 241.0 L316.9 241.8 L318.8 242.6 L320.6 243.4 L322.5 244.2 L324.4 245.0 L326.3 245.8 L328.1 246.6 L330.0 247.3 L331.9 248.0 L333.8 248.7 L335.8 249.5 L337.7 250.2 L339.6 250.9 L341.5 251.6 L343.5 252.3 L345.4 253.0 L347.3 253.7 L349.2 254.3 L351.2 255.0 L353.1 255.7 L355.0 256.4 L356.9 257.2 L358.9 257.9 L360.8 258.6 L362.7 259.3 L364.6 260.1 L366.6 260.8 L368.5 261.6 L370.4 262.4 L372.3 263.2 L374.2 264.0 L376.2 264.8 L378.1 265.7 L380.0 266.5 L381.9 267.4 L383.9 268.3 L385.8 269.1 L387.7 270.0 L389.6 270.9 L391.6 271.8 L393.5 272.7 L395.4 273.6 L397.3 274.5 L399.3 275.3 L401.2 276.2 L403.1 277.1 L405.0 278.0 L407.0 278.9 L408.9 279.7 L410.8 280.6 L412.7 281.4 L414.6 282.3 L416.5 283.1 L418.4 284.0 L420.3 284.8 L422.2 285.6 L424.1 286.5 L426.0 287.3 L427.9 288.1 L429.8 289.0 L431.7 289.8 L433.6 290.6 L435.5 291.4 L437.4 292.3 L439.3 293.1 L441.2 293.9 L443.1 294.7 L444.5 295.2 L445.9 295.5"/>
<path d="M277.8 242.3 L279.7 242.3 L281.7 242.4 L283.6 242.4 L285.6 242.5 L287.5 242.6 L289.4 242.7 L291.4 242.8 L293.3 242.9 L295.2 243.1 L297.2 243.2 L299.1 243.4 L301.1 243.6 L303.0 243.8 L304.9 244.1 L306.9 244.3 L308.8 244.6 L310.7 244.8 L312.7 245.1 L314.6 245.4 L316.6 245.8 L318.5 246.1 L320.4 246.5 L322.4 246.8 L324.3 247.2 L326.2 247.6 L328.2 248.0 L330.1 248.5 L332.1 248.9 L334.0 249.4 L336.0 249.9 L338.0 250.4 L340.0 251.0 L342.0 251.6 L344.0 252.2 L346.0 252.8 L348.0 253.4 L350.0 254.1 L352.0 254.8 L354.0 255.5 L356.0 256.2 L358.0 257.0 L360.0 257.7 L362.0 258.5 L364.0 259.2 L366.0 260.0 L368.0 260.8 L370.0 261.6 L372.0 262.4 L374.0 263.2 L376.0 264.1 L378.0 264.9 L380.0 265.7 L382.0 266.5 L384.0 267.3 L386.0 268.2 L388.0 269.0 L390.0 269.8 L392.0 270.6 L394.0 271.5 L396.0 272.4 L397.9 273.4 L399.9 274.4 L401.9 275.4 L403.9 276.4 L405.9 277.5 L407.9 278.5 L409.9 279.5 L411.8 280.6 L413.8 281.6 L415.8 282.6 L417.8 283.5 L419.7 284.4 L421.5 285.2 L423.4 286.1 L425.3 287.0 L427.2 287.8 L429.0 288.7 L430.9 289.5 L432.8 290.3 L434.7 291.2 L436.5 292.0 L438.4 292.8 L440.3 293.6 L442.2 294.4 L444.0 295.2 L445.9 296.0"/>
<path d="M277.8 249.4 L279.7 249.6 L281.7 249.9 L283.6 250.1 L285.6 250.4 L287.5 250.7 L289.4 250.9 L291.4 251.2 L293.3 251.5 L295.2 251.8 L297.2 252.2 L299.1 252.5 L301.1 252.8 L303.0 253.2 L304.9 253.5 L306.9 253.9 L308.8 254.3 L310.7 254.7 L312.7 255.1 L314.6 255.5 L316.6 255.9 L318.5 256.4 L320.4 256.8 L322.4 257.3 L324.3 257.7 L326.2 258.2 L328.2 258.7 L330.1 259.2 L332.1 259.7 L334.0 260.2 L336.0 260.7 L338.0 261.3 L340.0 261.9 L342.0 262.5 L344.0 263.1 L346.0 263.8 L348.0 264.4 L350.0 265.1 L352.0 265.8 L354.0 266.4 L356.0 267.1 L358.0 267.8 L360.0 268.6 L362.0 269.3 L364.0 270.0 L366.0 270.7 L368.0 271.5 L370.0 272.2 L372.0 273.0 L374.0 273.7 L376.0 274.4 L378.0 275.2 L380.0 275.9 L382.0 276.6 L384.0 277.4 L386.0 278.1 L388.0 278.8 L390.0 279.5 L392.0 280.2 L394.0 280.9 L396.0 281.7 L397.9 282.4 L399.9 283.1 L401.9 283.9 L403.9 284.6 L405.9 285.4 L407.9 286.1 L409.9 286.8 L411.8 287.5 L413.8 288.2 L415.8 288.9 L417.8 289.5 L419.7 290.1 L421.5 290.7 L423.4 291.2 L425.3 291.8 L427.2 292.3 L429.0 292.8 L430.9 293.3 L432.8 293.8 L434.7 294.3 L436.5 294.8 L438.4 295.3 L440.3 295.7 L442.2 296.2 L444.0 296.6 L445.9 297.0"/>
<path d="M277.8 251.8 L279.8 251.8 L281.8 251.8 L283.8 251.8 L285.8 251.8 L287.8 251.8 L289.8 251.8 L291.8 251.8 L293.8 251.8 L295.8 251.7 L297.8 251.7 L299.8 251.7 L301.8 251.6 L303.8 251.6 L305.8 251.6 L307.8 251.5 L309.7 251.4 L311.5 251.3 L313.4 251.2 L315.3 251.0 L317.2 250.9 L319.0 250.7 L320.9 250.5 L322.8 250.3 L324.6 250.1 L326.5 249.9 L328.4 249.7 L330.3 249.5 L332.1 249.3 L334.0 249.2 L336.0 249.1 L338.0 248.9 L340.0 248.8 L342.0 248.7 L344.0 248.6 L346.0 248.4 L348.0 248.3 L350.0 248.2 L352.0 248.1 L354.0 248.0 L356.0 247.9 L358.0 247.8 L360.0 247.7 L362.0 247.5 L364.0 247.4 L366.0 247.3 L368.0 247.2 L370.0 247.1 L372.0 247.0 L374.0 246.9 L376.0 246.8 L378.0 246.8 L380.0 246.7 L382.0 246.6 L384.0 246.5 L386.0 246.4 L388.0 246.3 L390.0 246.2 L392.0 246.1 L394.0 246.1 L396.0 246.0 L398.0 245.9 L400.0 245.8 L402.0 245.8 L404.0 245.7 L406.0 245.6 L408.0 245.5 L410.0 245.5 L412.0 245.4 L414.0 245.3 L415.9 245.2 L417.9 245.2 L419.9 245.1 L421.9 245.1 L423.9 245.0 L425.9 244.9 L427.9 244.9 L429.9 244.8 L431.9 244.8 L433.9 244.7 L435.9 244.6 L437.9 244.6 L439.9 244.5 L441.9 244.5 L443.9 244.4 L445.9 244.4"/>
<path d="M277.8 257.8 L279.7 257.8 L281.7 257.8 L283.6 257.9 L285.6 257.9 L287.5 258.0 L289.4 258.0 L291.4 258.1 L293.3 258.2 L295.2 258.3 L297.2 258.5 L299.1 258.6 L301.1 258.7 L303.0 258.9 L304.9 259.1 L306.9 259.3 L308.8 259.5 L310.7 259.8 L312.7 260.0 L314.6 260.3 L316.6 260.5 L318.5 260.8 L320.4 261.1 L322.4 261.5 L324.3 261.8 L326.2 262.2 L328.2 262.6 L330.1 263.0 L332.1 263.4 L334.0 263.8 L336.0 264.3 L338.0 264.8 L340.0 265.3 L342.0 265.9 L344.0 266.5 L346.0 267.1 L348.0 267.8 L350.0 268.4 L352.0 269.1 L354.0 269.8 L356.0 270.5 L358.0 271.3 L360.0 272.0 L362.0 272.8 L364.0 273.6 L366.0 274.3 L368.0 275.1 L370.0 275.9 L372.0 276.7 L374.0 277.4 L376.0 278.2 L378.0 279.0 L380.0 279.7 L382.0 280.5 L384.0 281.2 L386.0 281.9 L388.0 282.6 L390.0 283.3 L392.0 284.0 L394.0 284.6 L396.0 285.3 L397.9 285.9 L399.9 286.6 L401.9 287.2 L403.9 287.9 L405.9 288.5 L407.9 289.1 L409.9 289.7 L411.8 290.3 L413.8 290.9 L415.8 291.5 L417.8 292.0 L419.7 292.5 L421.5 293.0 L423.4 293.5 L425.3 294.0 L427.2 294.4 L429.0 294.9 L430.9 295.3 L432.8 295.8 L434.7 296.2 L436.5 296.6 L438.4 297.0 L440.3 297.4 L442.2 297.8 L444.0 298.1 L445.9 298.5"/>
<path d="M277.8 266.2 L279.7 266.4 L281.7 266.5 L283.6 266.7 L285.6 266.9 L287.5 267.1 L289.4 267.2 L291.4 267.4 L293.3 267.7 L295.2 267.9 L297.2 268.1 L299.1 268.3 L301.1 268.6 L303.0 268.8 L304.9 269.1 L306.9 269.3 L308.8 269.6 L310.7 269.9 L312.7 270.1 L314.6 270.4 L316.6 270.7 L318.5 271.0 L320.4 271.3 L322.4 271.6 L324.3 272.0 L326.2 272.3 L328.2 272.6 L330.1 273.0 L332.1 273.3 L334.0 273.7 L336.0 274.1 L338.0 274.5 L340.0 274.9 L342.0 275.3 L344.0 275.8 L346.0 276.2 L348.0 276.7 L350.0 277.1 L352.0 277.6 L354.0 278.1 L356.0 278.6 L358.0 279.1 L360.0 279.6 L362.0 280.1 L364.0 280.6 L366.0 281.1 L368.0 281.6 L370.0 282.1 L372.0 282.7 L374.0 283.2 L376.0 283.7 L378.0 284.2 L380.0 284.8 L382.0 285.3 L384.0 285.8 L386.0 286.3 L388.0 286.8 L390.0 287.3 L392.0 287.8 L394.0 288.3 L396.0 288.8 L397.9 289.4 L399.9 289.9 L401.9 290.5 L403.9 291.0 L405.9 291.5 L407.9 292.1 L409.9 292.6 L411.8 293.1 L413.8 293.6 L415.8 294.1 L417.8 294.5 L419.7 294.9 L421.5 295.3 L423.4 295.7 L425.3 296.1 L427.2 296.4 L429.0 296.8 L430.9 297.1 L432.8 297.5 L434.7 297.8 L436.5 298.1 L438.4 298.4 L440.3 298.7 L442.2 299.0 L444.0 299.2 L445.9 299.5"/>
<path d="M277.8 267.3 L279.7 267.5 L281.7 267.7 L283.6 267.9 L285.6 268.2 L287.5 268.4 L289.4 268.6 L291.4 268.9 L293.3 269.1 L295.2 269.4 L297.2 269.6 L299.1 269.9 L301.1 270.2 L303.0 270.5 L304.9 270.7 L306.9 271.0 L308.8 271.3 L310.7 271.6 L312.7 271.9 L314.6 272.2 L316.6 272.6 L318.5 272.9 L320.4 273.2 L322.4 273.6 L324.3 273.9 L326.2 274.2 L328.2 274.6 L330.1 275.0 L332.1 275.3 L334.0 275.7 L336.0 276.1 L338.0 276.5 L340.0 276.9 L342.0 277.3 L344.0 277.8 L346.0 278.2 L348.0 278.7 L350.0 279.1 L352.0 279.6 L354.0 280.1 L356.0 280.5 L358.0 281.0 L360.0 281.5 L362.0 282.0 L364.0 282.5 L366.0 283.0 L368.0 283.5 L370.0 284.0 L372.0 284.5 L374.0 285.0 L376.0 285.5 L378.0 286.0 L380.0 286.5 L382.0 287.0 L384.0 287.5 L386.0 288.0 L388.0 288.5 L390.0 289.0 L392.0 289.5 L394.0 290.0 L396.0 290.5 L397.9 291.0 L399.9 291.6 L401.9 292.1 L403.9 292.6 L405.9 293.2 L407.9 293.7 L409.9 294.2 L411.8 294.7 L413.8 295.1 L415.8 295.6 L417.8 296.0 L419.7 296.4 L421.5 296.7 L423.4 297.1 L425.3 297.5 L427.2 297.8 L429.0 298.1 L430.9 298.4 L432.8 298.7 L434.7 299.0 L436.5 299.3 L438.4 299.6 L440.3 299.8 L442.2 300.0 L444.0 300.3 L445.9 300.5"/>
<path d="M277.8 275.7 L279.7 276.1 L281.7 276.6 L283.6 277.0 L285.6 277.4 L287.5 277.8 L289.4 278.2 L291.4 278.7 L293.3 279.1 L295.2 279.5 L297.2 279.9 L299.1 280.3 L301.1 280.6 L303.0 281.0 L304.9 281.4 L306.9 281.8 L308.8 282.2 L310.7 282.5 L312.7 282.9 L314.6 283.3 L316.6 283.6 L318.5 284.0 L320.4 284.3 L322.4 284.7 L324.3 285.0 L326.2 285.4 L328.2 285.7 L330.1 286.0 L332.1 286.4 L334.0 286.7 L336.0 287.0 L338.0 287.3 L340.0 287.7 L342.0 288.0 L344.0 288.3 L346.0 288.6 L348.0 288.8 L350.0 289.1 L352.0 289.4 L354.0 289.7 L356.0 289.9 L358.0 290.2 L360.0 290.5 L362.0 290.7 L364.0 291.0 L366.0 291.2 L368.0 291.5 L370.0 291.8 L372.0 292.0 L374.0 292.3 L376.0 292.5 L378.0 292.8 L380.0 293.0 L382.0 293.3 L384.0 293.6 L386.0 293.8 L388.0 294.1 L390.0 294.4 L392.0 294.7 L394.0 295.0 L396.0 295.3 L397.9 295.6 L399.9 295.9 L401.9 296.2 L403.9 296.5 L405.9 296.8 L407.9 297.1 L409.9 297.4 L411.8 297.7 L413.8 298.0 L415.8 298.2 L417.8 298.5 L419.7 298.7 L421.5 299.0 L423.4 299.2 L425.3 299.4 L427.2 299.6 L429.0 299.8 L430.9 300.0 L432.8 300.2 L434.7 300.4 L436.5 300.6 L438.4 300.8 L440.3 301.0 L442.2 301.2 L444.0 301.3 L445.9 301.5"/>
<path d="M277.8 281.7 L279.7 282.0 L281.7 282.2 L283.6 282.5 L285.6 282.7 L287.5 283.0 L289.4 283.3 L291.4 283.5 L293.3 283.8 L295.2 284.0 L297.2 284.3 L299.1 284.6 L301.1 284.8 L303.0 285.1 L304.9 285.4 L306.9 285.6 L308.8 285.9 L310.7 286.1 L312.7 286.4 L314.6 286.7 L316.6 286.9 L318.5 287.2 L320.4 287.5 L322.4 287.7 L324.3 288.0 L326.2 288.2 L328.2 288.5 L330.1 288.8 L332.1 289.0 L334.0 289.3 L336.0 289.6 L338.0 289.8 L340.0 290.1 L342.0 290.4 L344.0 290.7 L346.0 290.9 L348.0 291.2 L350.0 291.5 L352.0 291.8 L354.0 292.1 L356.0 292.3 L358.0 292.6 L360.0 292.9 L362.0 293.2 L364.0 293.4 L366.0 293.7 L368.0 294.0 L370.0 294.3 L372.0 294.6 L374.0 294.8 L376.0 295.1 L378.0 295.4 L380.0 295.6 L382.0 295.9 L384.0 296.2 L386.0 296.5 L388.0 296.7 L390.0 297.0 L392.0 297.3 L394.0 297.5 L396.0 297.8 L397.9 298.1 L399.9 298.4 L401.9 298.6 L403.9 298.9 L405.9 299.1 L407.9 299.4 L409.9 299.6 L411.8 299.9 L413.8 300.1 L415.8 300.3 L417.8 300.5 L419.7 300.7 L421.5 300.8 L423.4 301.0 L425.3 301.1 L427.2 301.3 L429.0 301.4 L430.9 301.6 L432.8 301.7 L434.7 301.8 L436.5 301.9 L438.4 302.0 L440.3 302.1 L442.2 302.2 L444.0 302.2 L445.9 302.3"/>
<path d="M277.8 282.9 L279.7 283.1 L281.7 283.3 L283.6 283.6 L285.6 283.8 L287.5 284.0 L289.4 284.3 L291.4 284.5 L293.3 284.8 L295.2 285.0 L297.2 285.3 L299.1 285.5 L301.1 285.8 L303.0 286.0 L304.9 286.3 L306.9 286.6 L308.8 286.8 L310.7 287.1 L312.7 287.4 L314.6 287.6 L316.6 287.9 L318.5 288.2 L320.4 288.5 L322.4 288.8 L324.3 289.1 L326.2 289.4 L328.2 289.7 L330.1 290.0 L332.1 290.3 L334.0 290.6 L336.0 290.9 L338.0 291.3 L340.0 291.6 L342.0 292.0 L344.0 292.3 L346.0 292.7 L348.0 293.1 L350.0 293.5 L352.0 293.9 L354.0 294.2 L356.0 294.6 L358.0 295.0 L360.0 295.4 L362.0 295.8 L364.0 296.2 L366.0 296.6 L368.0 297.0 L370.0 297.4 L372.0 297.8 L374.0 298.2 L376.0 298.5 L378.0 298.9 L380.0 299.3 L382.0 299.6 L384.0 300.0 L386.0 300.3 L388.0 300.6 L390.0 300.9 L392.0 301.2 L394.0 301.4 L396.0 301.7 L397.9 301.9 L399.9 302.1 L401.9 302.2 L403.9 302.4 L405.9 302.5 L407.9 302.6 L409.9 302.7 L411.8 302.8 L413.8 302.9 L415.8 303.0 L417.8 303.0 L419.7 303.0 L421.5 303.1 L423.4 303.1 L425.3 303.1 L427.2 303.1 L429.0 303.2 L430.9 303.2 L432.8 303.2 L434.7 303.2 L436.5 303.2 L438.4 303.2 L440.3 303.2 L442.2 303.2 L444.0 303.2 L445.9 303.2"/>
<path d="M277.8 293.5 L279.7 293.5 L281.6 293.5 L283.5 293.6 L285.4 293.7 L287.4 293.8 L289.3 293.9 L291.2 294.0 L293.1 294.1 L295.0 294.3 L296.9 294.5 L298.8 294.7 L300.7 294.9 L302.6 295.1 L304.6 295.4 L306.5 295.7 L308.4 296.0 L310.3 296.3 L312.2 296.6 L314.1 296.9 L315.9 297.3 L317.8 297.8 L319.7 298.2 L321.6 298.7 L323.4 299.2 L325.3 299.7 L327.2 300.3 L329.1 300.9 L330.9 301.4 L332.8 302.0 L334.7 302.6 L336.6 303.2 L338.4 303.8 L340.3 304.4 L342.2 305.0 L344.1 305.6 L345.9 306.2 L347.8 306.8 L349.7 307.4 L351.6 308.0 L353.4 308.7 L355.3 309.4 L357.2 310.1 L359.1 310.8 L360.9 311.5 L362.8 312.3 L364.8 313.2 L366.8 314.3 L368.8 315.5 L370.8 316.7 L372.8 318.0"/>
<path d="M277.8 294.5 L279.7 294.5 L281.6 294.5 L283.5 294.6 L285.4 294.7 L287.4 294.8 L289.3 294.9 L291.2 295.0 L293.1 295.1 L295.0 295.3 L296.9 295.5 L298.8 295.7 L300.7 295.9 L302.6 296.1 L304.6 296.4 L306.5 296.7 L308.4 297.0 L310.3 297.3 L312.2 297.6 L314.1 297.9 L315.9 298.3 L317.8 298.8 L319.7 299.2 L321.6 299.7 L323.4 300.2 L325.3 300.8 L327.2 301.3 L329.1 301.9 L330.9 302.5 L332.8 303.1 L334.7 303.7 L336.6 304.2 L338.4 304.8 L340.3 305.4 L342.2 306.0 L344.0 306.5 L345.9 307.1 L347.8 307.7 L349.6 308.3 L351.5 308.9 L353.3 309.5 L355.2 310.2 L357.1 310.8 L358.9 311.5 L360.8 312.3 L362.8 313.2 L364.8 314.3 L366.8 315.5 L368.8 316.7 L370.8 318.0"/>
<path d="M277.8 305.5 L279.8 305.5 L281.8 305.6 L283.8 305.7 L285.8 305.8 L287.8 306.0 L289.8 306.2 L291.8 306.5 L293.8 306.8 L295.8 307.1 L297.8 307.5 L299.8 307.9 L301.8 308.4 L303.8 309.0 L305.8 309.7 L307.8 310.4 L309.8 311.3 L311.8 312.3 L313.8 313.7 L315.8 315.7 L317.8 318.0"/>
<path d="M277.8 307.2 L279.8 307.4 L281.8 307.7 L283.8 308.0 L285.8 308.3 L287.8 308.7 L289.8 309.1 L291.8 309.5 L293.8 309.9 L295.8 310.3 L297.8 310.8 L299.8 311.4 L301.8 312.3 L303.8 313.7 L305.8 315.7 L307.8 318.0"/>
<path d="M377.8 316.0 L379.7 315.1 L381.5 314.2 L383.4 313.4 L385.2 312.6 L387.1 311.8 L388.9 311.1 L390.8 310.5 L392.6 309.9 L394.4 309.3 L396.3 308.8 L398.1 308.4 L400.0 308.0 L401.9 307.7 L403.8 307.4 L405.7 307.2 L407.6 307.0 L409.5 306.9 L411.4 306.8 L413.3 306.7 L415.2 306.7 L417.1 306.7 L419.0 306.6 L420.9 306.6 L422.8 306.5 L424.7 306.4 L426.6 306.3 L428.6 306.3 L430.5 306.2 L432.4 306.2 L434.4 306.1 L436.3 306.1 L438.2 306.1 L440.1 306.0 L442.0 306.0 L444.0 306.0 L445.9 306.0"/>
<path d="M412.8 318.0 L414.5 316.4 L416.2 314.8 L417.9 313.3 L419.6 312.3 L421.5 311.4 L423.4 310.5 L425.2 309.5 L427.1 308.5 L429.0 307.6 L430.9 306.7 L432.8 305.8 L434.6 305.0 L436.5 304.3 L438.4 303.7 L440.3 303.2 L442.1 302.8 L444.0 302.5 L445.9 302.4"/>
<path d="M422.8 318.0 L424.5 315.8 L426.3 313.7 L428.0 312.3 L430.0 311.2 L432.0 310.1 L434.0 309.0 L436.0 308.0 L437.9 307.1 L439.9 306.3 L441.9 305.7 L443.9 305.3 L445.9 305.2"/>
<path d="M429.8 318.0 L431.4 315.7 L432.9 313.7 L434.5 312.3 L436.4 311.2 L438.3 310.1 L440.2 309.3 L442.1 308.6 L444.0 308.2 L445.9 308.0"/>
</g>
<line x1="277.25" y1="194.3" x2="445.90" y2="194.3" stroke="#d4404a" stroke-width="1.2" stroke-dasharray="2.5 1.6425"/>
<rect x="277.80" y="31.00" width="168.10" height="281.30" fill="none" stroke="#555" stroke-width="1.3"/>
<text x="272.8" y="308.0" font-size="16" text-anchor="end">-1.2</text>
<text x="272.8" y="271.7" font-size="16" text-anchor="end">-0.8</text>
<text x="272.8" y="235.4" font-size="16" text-anchor="end">-0.4</text>
<text x="272.8" y="199.1" font-size="16" text-anchor="end">0</text>
<text x="272.8" y="162.8" font-size="16" text-anchor="end">0.4</text>
<text x="272.8" y="126.5" font-size="16" text-anchor="end">0.8</text>
<text x="272.8" y="90.2" font-size="16" text-anchor="end">1.2</text>
<text x="272.8" y="53.9" font-size="16" text-anchor="end">1.6</text>
<path d="M275.80 312.48H277.80M445.90 312.48H447.90M274.80 303.40H277.80M445.90 303.40H448.90M275.80 294.32H277.80M445.90 294.32H447.90M275.80 285.25H277.80M445.90 285.25H447.90M275.80 276.18H277.80M445.90 276.18H447.90M274.80 267.10H277.80M445.90 267.10H448.90M275.80 258.02H277.80M445.90 258.02H447.90M275.80 248.95H277.80M445.90 248.95H447.90M275.80 239.88H277.80M445.90 239.88H447.90M274.80 230.80H277.80M445.90 230.80H448.90M275.80 221.72H277.80M445.90 221.72H447.90M275.80 212.65H277.80M445.90 212.65H447.90M275.80 203.57H277.80M445.90 203.57H447.90M274.80 194.50H277.80M445.90 194.50H448.90M275.80 185.43H277.80M445.90 185.43H447.90M275.80 176.35H277.80M445.90 176.35H447.90M275.80 167.28H277.80M445.90 167.28H447.90M274.80 158.20H277.80M445.90 158.20H448.90M275.80 149.12H277.80M445.90 149.12H447.90M275.80 140.05H277.80M445.90 140.05H447.90M275.80 130.97H277.80M445.90 130.97H447.90M274.80 121.90H277.80M445.90 121.90H448.90M275.80 112.83H277.80M445.90 112.83H447.90M275.80 103.75H277.80M445.90 103.75H447.90M275.80 94.67H277.80M445.90 94.67H447.90M274.80 85.60H277.80M445.90 85.60H448.90M275.80 76.52H277.80M445.90 76.52H447.90M275.80 67.45H277.80M445.90 67.45H447.90M275.80 58.38H277.80M445.90 58.38H447.90M274.80 49.30H277.80M445.90 49.30H448.90M275.80 40.22H277.80M445.90 40.22H447.90M275.80 31.15H277.80M445.90 31.15H447.90" stroke="#555" stroke-width="1"/>
<text transform="translate(241.4 181.0) rotate(-90)" font-size="16.5" text-anchor="middle">Energy (eV)</text>
<line x1="282.9" y1="164.5" x2="282.9" y2="197" stroke="#111" stroke-width="1.4"/>
<path d="M282.9 161.6 L280.7 166.8 L285.1 166.8Z M282.9 200.3 L280.7 195.1 L285.1 195.1Z" fill="#111"/>
<text x="289.4" y="186.8" font-size="14.5">0.498eV</text>
<path d="M275.9 330.4V319.6H282.4" fill="none" stroke="#111" stroke-width="1.5"/>
<text x="439.9" y="329.8" font-size="16">Y</text>
<text x="475.7" y="17.7" font-size="23">(c)</text>
<text x="554.8" y="22.8" font-size="17.7" font-weight="bold">25 - WS<tspan font-size="11.5" dy="4">2</tspan></text>
<g clip-path="url(#clipc)" fill="none" stroke="#111" stroke-width="1.25" stroke-linecap="round" stroke-linejoin="round">
<path d="M505.5 31.8 L507.5 31.8 L509.5 31.8 L511.5 31.8 L513.5 31.7 L515.5 31.6 L517.5 31.5 L519.5 31.3 L521.5 31.0 L523.5 30.6 L525.5 30.0 L527.5 29.2 L529.5 28.2 L531.5 27.0"/>
<path d="M505.5 33.8 L507.5 33.8 L509.5 33.8 L511.5 33.7 L513.5 33.6 L515.5 33.5 L517.5 33.3 L519.4 33.1 L521.4 32.9 L523.3 32.6 L525.2 32.3 L527.1 32.0 L529.1 31.5 L531.0 31.0 L532.6 30.3 L534.2 29.4 L535.9 28.2 L537.5 27.0"/>
<path d="M505.5 42.5 L507.4 42.5 L509.3 42.5 L511.2 42.5 L513.1 42.5 L515.0 42.4 L516.9 42.4 L518.8 42.3 L520.7 42.2 L522.6 42.1 L524.5 42.0 L526.3 41.7 L528.2 41.2 L530.0 40.5 L531.8 39.7 L533.7 38.9 L535.5 38.0 L537.3 37.1 L539.0 36.2 L540.8 35.2 L542.5 34.2 L544.3 33.1 L546.0 32.1 L547.8 31.0 L549.7 29.8 L551.6 28.4 L553.5 27.0"/>
<path d="M505.5 46.2 L507.4 46.0 L509.3 45.8 L511.2 45.5 L513.1 45.1 L515.0 44.7 L516.9 44.3 L518.8 43.9 L520.7 43.4 L522.6 42.9 L524.5 42.4 L526.3 41.9 L528.2 41.3 L530.0 40.6 L531.8 39.9 L533.7 39.1 L535.5 38.2 L537.3 37.3 L539.0 36.3 L540.8 35.3 L542.5 34.3 L544.3 33.2 L546.0 32.1 L547.8 31.0 L549.7 29.7 L551.6 28.4 L553.5 27.0"/>
<path d="M637.5 27.0 L639.4 27.9 L641.2 28.8 L643.1 29.6 L644.9 30.4 L646.8 31.0 L648.6 31.6 L650.4 32.1 L652.1 32.5 L653.9 32.9 L655.7 33.2 L657.5 33.5 L659.3 33.7 L661.1 33.9 L662.9 34.0 L664.7 34.1 L666.6 34.2 L668.4 34.2 L670.2 34.3 L672.0 34.3 L673.8 34.3"/>
<path d="M643.5 28.0 L645.5 28.6 L647.5 29.2 L649.5 29.7 L651.5 30.1 L653.5 30.5 L655.5 30.8 L657.3 31.0 L659.2 31.2 L661.0 31.4 L662.8 31.5 L664.6 31.6 L666.5 31.7 L668.3 31.7 L670.1 31.8 L672.0 31.8 L673.8 31.8"/>
<path d="M505.5 55.5 L507.4 55.4 L509.3 55.3 L511.2 55.2 L513.1 55.2 L515.0 55.1 L516.8 55.1 L518.5 55.0 L520.2 55.0 L522.0 55.0 L523.8 54.9 L525.5 54.9 L527.5 54.9 L529.4 54.8 L531.4 54.8 L533.3 54.7 L535.3 54.7 L537.2 54.8 L539.2 55.0 L541.1 55.4 L543.0 55.8 L544.9 56.3 L546.9 56.9 L548.8 57.4 L550.7 57.9 L552.5 58.5 L554.4 59.1 L556.3 59.8 L558.1 60.5 L560.0 61.2 L561.9 62.0 L563.8 62.7 L565.6 63.5 L567.5 64.3 L569.4 65.1 L571.3 65.9 L573.2 66.8 L575.1 67.6 L577.0 68.4 L578.8 69.2 L580.7 70.1 L582.6 70.9 L584.5 71.7 L586.4 72.6 L588.2 73.5 L590.1 74.4 L592.0 75.2 L593.9 76.1 L595.7 77.0 L597.6 77.9 L599.5 78.7 L601.4 79.5 L603.2 80.3 L605.1 81.0 L607.0 81.7 L608.9 82.4 L610.7 83.0 L612.6 83.6 L614.5 84.2 L616.4 84.8 L618.2 85.3 L620.1 85.8 L622.0 86.3 L623.9 86.8 L625.7 87.3 L627.6 87.8 L629.5 88.3 L631.5 88.7 L633.4 89.0 L635.3 89.3 L637.2 89.6 L639.2 89.8 L641.1 90.0 L643.0 90.1 L645.0 90.2 L646.9 90.2 L648.8 90.2 L650.7 90.1 L652.7 90.1 L654.6 90.0 L656.5 89.9 L658.4 89.9 L660.4 89.8 L662.3 89.7 L664.2 89.6 L666.1 89.5 L668.0 89.4 L670.0 89.3 L671.9 89.2 L673.8 89.0"/>
<path d="M505.5 58.3 L507.4 58.3 L509.3 58.3 L511.2 58.3 L513.1 58.2 L515.0 58.1 L516.8 57.9 L518.5 57.6 L520.2 57.2 L522.0 56.7 L523.8 56.3 L525.5 56.0 L527.5 55.7 L529.4 55.4 L531.4 55.1 L533.3 55.0 L535.3 54.9 L537.2 55.0 L539.2 55.2 L541.1 55.5 L543.0 55.9 L544.9 56.4 L546.9 56.9 L548.8 57.4 L550.7 57.9 L552.5 58.5 L554.4 59.1 L556.3 59.8 L558.1 60.5 L560.0 61.2 L561.9 62.0 L563.8 62.7 L565.6 63.5 L567.5 64.3 L569.4 65.1 L571.3 65.9 L573.2 66.8 L575.1 67.6 L577.0 68.4 L578.8 69.2 L580.7 70.1 L582.6 70.9 L584.5 71.7 L586.4 72.6 L588.2 73.5 L590.1 74.4 L592.0 75.2 L593.9 76.1 L595.7 77.0 L597.6 77.9 L599.5 78.7 L601.4 79.5 L603.2 80.3 L605.1 81.0 L607.0 81.7 L608.9 82.4 L610.7 83.0 L612.6 83.6 L614.5 84.2 L616.4 84.8 L618.2 85.3 L620.1 85.8 L622.0 86.3 L623.9 86.8 L625.7 87.3 L627.6 87.8 L629.5 88.3 L631.5 88.7 L633.4 89.0 L635.3 89.3 L637.2 89.6 L639.2 89.8 L641.1 90.0 L643.0 90.1 L645.0 90.2 L646.9 90.2 L648.8 90.2 L650.7 90.1 L652.7 90.1 L654.6 90.0 L656.5 89.9 L658.4 89.9 L660.4 89.8 L662.3 89.7 L664.2 89.6 L666.1 89.5 L668.0 89.4 L670.0 89.3 L671.9 89.2 L673.8 89.0"/>
<path d="M505.5 156.2 L507.5 156.2 L509.5 156.2 L511.5 156.1 L513.5 155.9 L515.5 155.7 L517.5 155.4 L519.4 155.0 L521.4 154.6 L523.4 154.1 L525.3 153.6 L527.3 153.0 L529.2 152.4 L531.1 151.8 L533.0 151.1 L534.9 150.5 L536.8 149.8 L538.7 149.1 L540.5 148.4 L542.4 147.8 L544.3 147.1 L546.2 146.3 L548.1 145.6 L550.0 144.9 L551.9 144.2 L553.8 143.5 L555.8 142.8 L557.7 142.1 L559.6 141.3 L561.6 140.6 L563.5 139.8 L565.4 139.0 L567.4 138.1 L569.3 137.1 L571.3 136.0 L573.3 134.9 L575.3 133.8 L577.2 132.6 L579.2 131.4 L581.2 130.2 L583.2 129.0 L585.2 127.7 L587.2 126.5 L589.2 125.3 L591.2 124.1 L593.1 122.9 L595.1 121.7 L597.1 120.5 L599.1 119.4 L601.1 118.3 L603.0 117.3 L604.9 116.3 L606.8 115.3 L608.7 114.3 L610.6 113.4 L612.5 112.5 L614.4 111.6 L616.3 110.7 L618.2 109.8 L620.1 109.0 L622.0 108.2 L623.9 107.4 L625.8 106.7 L627.7 106.0 L629.7 105.3 L631.6 104.6 L633.6 104.0 L635.5 103.5 L637.5 103.0 L639.4 102.7 L641.4 102.5 L643.3 102.4 L645.0 102.4 L646.8 102.4 L648.5 102.4 L650.3 102.4 L652.0 102.5 L653.8 102.5 L655.5 102.6 L657.3 102.7 L659.2 102.8 L661.0 102.9 L662.8 102.9 L664.6 103.0 L666.5 103.2 L668.3 103.3 L670.1 103.4 L672.0 103.5 L673.8 103.7"/>
<path d="M505.50 137.10 L673.80 139.00"/>
<path d="M505.5 201.3 L507.5 201.3 L509.5 201.3 L511.5 201.3 L513.5 201.3 L515.5 201.4 L517.5 201.4 L519.5 201.5 L521.5 201.5 L523.5 201.6 L525.5 201.7 L527.5 201.8 L529.5 201.9 L531.5 202.1 L533.5 202.2 L535.5 202.4 L537.5 202.6 L539.5 202.8 L541.5 203.1 L543.5 203.3 L545.5 203.6 L547.5 203.9 L549.5 204.2 L551.5 204.4 L553.5 204.7 L555.5 205.0 L557.5 205.3 L559.5 205.6 L561.5 205.9 L563.5 206.2 L565.5 206.5 L567.5 206.8 L569.5 207.0 L571.5 207.3 L573.5 207.5 L575.5 207.7 L577.5 207.9 L579.4 208.1 L581.4 208.3 L583.3 208.4 L585.3 208.6 L587.3 208.8 L589.2 209.0 L591.2 209.1 L593.2 209.3 L595.1 209.4 L597.1 209.6 L599.0 209.7 L601.0 209.9 L603.0 210.0 L604.9 210.2 L606.9 210.3 L608.8 210.4 L610.8 210.6 L612.8 210.7 L614.7 210.8 L616.7 210.9 L618.7 211.0 L620.6 211.2 L622.6 211.3 L624.5 211.4 L626.5 211.5 L628.5 211.6 L630.4 211.7 L632.4 211.8 L634.4 211.9 L636.4 212.0 L638.3 212.1 L640.3 212.2 L642.3 212.3 L644.2 212.4 L646.2 212.4 L648.2 212.5 L650.1 212.6 L652.1 212.6 L654.1 212.7 L656.1 212.8 L658.0 212.8 L660.0 212.9 L662.0 212.9 L663.9 213.0 L665.9 213.0 L667.9 213.1 L669.9 213.1 L671.8 213.2 L673.8 213.2"/>
<path d="M505.5 227.0 L507.5 227.0 L509.5 227.1 L511.5 227.2 L513.5 227.2 L515.5 227.3 L517.5 227.4 L519.5 227.5 L521.5 227.6 L523.5 227.8 L525.5 227.9 L527.5 228.1 L529.5 228.3 L531.5 228.5 L533.4 228.7 L535.4 228.9 L537.3 229.1 L539.2 229.3 L541.1 229.5 L543.0 229.7 L545.0 229.9 L546.9 230.1 L548.8 230.3 L550.8 230.6 L552.7 230.8 L554.6 231.1 L556.5 231.4 L558.5 231.7 L560.4 232.1 L562.3 232.4 L564.2 232.9 L566.1 233.3 L568.1 233.8 L570.0 234.3 L572.0 234.9 L574.0 235.5 L576.0 236.2 L578.0 236.9 L580.0 237.6 L582.0 238.4 L584.0 239.1 L586.0 239.9 L588.0 240.8 L590.0 241.6 L592.0 242.5 L594.0 243.4 L596.0 244.3 L598.0 245.2 L600.0 246.1 L602.0 247.0 L604.0 247.9 L606.0 248.9 L608.0 249.8 L610.0 250.7 L611.9 251.6 L613.7 252.5 L615.6 253.4 L617.5 254.4 L619.3 255.4 L621.2 256.4 L623.0 257.5 L624.9 258.6 L626.8 259.7 L628.6 260.8 L630.5 262.0 L632.4 263.3 L634.3 264.6 L636.2 266.1 L638.1 267.6 L640.0 269.1 L641.9 270.6 L643.8 272.1 L645.7 273.5 L647.7 274.9 L649.6 276.3 L651.6 277.6 L653.6 278.9 L655.5 280.2 L657.5 281.5 L659.1 282.6 L660.8 283.6 L662.4 284.6 L664.1 285.6 L665.7 286.4 L667.3 287.0 L668.9 287.3 L670.5 287.6 L672.1 287.8 L673.8 287.8"/>
<path d="M505.5 229.4 L507.5 229.4 L509.5 229.5 L511.5 229.6 L513.5 229.6 L515.5 229.7 L517.5 229.8 L519.5 229.9 L521.5 230.0 L523.5 230.2 L525.5 230.4 L527.5 230.6 L529.5 230.8 L531.5 231.0 L533.4 231.2 L535.4 231.5 L537.3 231.7 L539.2 231.9 L541.1 232.1 L543.0 232.3 L545.0 232.6 L546.9 232.8 L548.8 233.1 L550.8 233.3 L552.7 233.6 L554.6 233.9 L556.5 234.2 L558.5 234.6 L560.4 235.0 L562.3 235.4 L564.2 235.8 L566.1 236.3 L568.1 236.8 L570.0 237.4 L572.0 238.0 L574.0 238.7 L576.0 239.4 L578.0 240.1 L580.0 240.8 L582.0 241.6 L584.0 242.4 L586.0 243.3 L588.0 244.1 L590.0 245.0 L592.0 245.9 L594.0 246.8 L596.0 247.8 L598.0 248.8 L600.0 249.8 L602.0 250.8 L604.0 251.8 L606.0 252.9 L608.0 253.9 L610.0 255.0 L612.0 256.1 L614.0 257.3 L616.0 258.5 L618.0 259.7 L620.0 261.0 L622.0 262.2 L624.0 263.6 L626.0 264.9 L628.0 266.2 L630.0 267.6 L632.0 269.0 L634.0 270.3 L636.0 271.7 L638.0 273.1 L640.0 274.4 L642.0 275.8 L644.0 277.1 L646.0 278.4 L648.0 279.7 L650.0 281.0 L652.0 282.2 L654.0 283.5 L656.0 284.7 L657.9 285.8 L659.9 287.0 L661.9 288.2 L663.9 289.3 L665.9 290.5 L667.8 291.6 L669.8 292.8 L671.8 293.9 L673.8 295.0"/>
<path d="M505.5 235.7 L507.5 235.7 L509.5 235.8 L511.5 235.8 L513.5 235.8 L515.5 235.9 L517.5 236.0 L519.5 236.0 L521.5 236.1 L523.5 236.2 L525.5 236.3 L527.5 236.5 L529.5 236.6 L531.5 236.8 L533.4 237.0 L535.4 237.1 L537.3 237.2 L539.2 237.4 L541.1 237.5 L543.0 237.6 L545.0 237.7 L546.9 237.8 L548.8 237.9 L550.8 238.1 L552.7 238.3 L554.6 238.5 L556.5 238.7 L558.5 239.0 L560.4 239.3 L562.3 239.6 L564.2 240.0 L566.1 240.4 L568.1 240.9 L570.0 241.5 L572.0 242.1 L574.0 242.9 L576.0 243.6 L578.0 244.4 L580.0 245.3 L582.0 246.2 L584.0 247.1 L586.0 248.1 L588.0 249.1 L590.0 250.1 L592.0 251.2 L594.0 252.3 L596.0 253.3 L598.0 254.4 L600.0 255.5 L602.0 256.6 L604.0 257.7 L606.0 258.8 L608.0 259.9 L610.0 261.0 L612.0 262.1 L614.0 263.2 L616.0 264.3 L618.0 265.4 L620.0 266.5 L622.0 267.7 L624.0 268.9 L626.0 270.0 L628.0 271.2 L630.0 272.4 L632.0 273.6 L634.0 274.7 L636.0 275.9 L638.0 277.1 L640.0 278.3 L642.0 279.4 L644.0 280.6 L646.0 281.7 L648.0 282.9 L650.0 284.0 L652.0 285.1 L654.0 286.2 L656.0 287.3 L657.9 288.3 L659.9 289.4 L661.9 290.4 L663.9 291.4 L665.9 292.5 L667.8 293.5 L669.8 294.5 L671.8 295.5 L673.8 296.5"/>
<path d="M505.5 229.9 L507.5 230.2 L509.5 230.5 L511.5 230.8 L513.5 231.2 L515.5 231.6 L517.5 232.0 L519.5 232.5 L521.5 233.0 L523.5 233.5 L525.5 234.1 L527.5 234.7 L529.5 235.3 L531.5 236.0 L533.4 236.7 L535.3 237.5 L537.2 238.3 L539.1 239.2 L541.0 240.1 L542.9 241.1 L544.8 242.0 L546.8 243.0 L548.7 244.0 L550.6 245.0 L552.5 245.9 L554.4 246.8 L556.3 247.7 L558.2 248.5 L560.1 249.3 L562.0 250.0 L564.0 250.7 L566.0 251.3 L568.0 251.9 L570.0 252.5 L572.0 253.0 L574.0 253.6 L576.0 254.1 L578.0 254.5 L580.0 255.0 L582.0 255.5 L584.0 255.9 L586.0 256.4 L588.0 256.9 L590.0 257.3 L592.0 257.8 L594.0 258.3 L596.0 258.9 L598.0 259.4 L600.0 260.0 L602.0 260.6 L604.0 261.3 L606.0 262.0 L608.0 262.7 L610.0 263.5 L612.0 264.4 L614.0 265.3 L616.0 266.2 L618.0 267.2 L620.0 268.3 L622.0 269.4 L624.0 270.5 L626.0 271.7 L628.0 272.9 L630.0 274.1 L632.0 275.3 L634.0 276.5 L636.0 277.8 L638.0 279.0 L640.0 280.2 L642.0 281.4 L644.0 282.6 L646.0 283.8 L648.0 284.9 L650.0 286.0 L652.0 287.1 L654.0 288.1 L656.0 289.1 L657.9 290.2 L659.9 291.2 L661.9 292.2 L663.9 293.2 L665.9 294.1 L667.8 295.1 L669.8 296.1 L671.8 297.0 L673.8 298.0"/>
<path d="M505.5 251.8 L507.5 251.8 L509.5 251.8 L511.5 251.8 L513.5 251.8 L515.5 251.8 L517.5 251.8 L519.5 251.8 L521.5 251.8 L523.5 251.8 L525.5 251.7 L527.5 251.7 L529.5 251.7 L531.5 251.7 L533.5 251.6 L535.5 251.6 L537.4 251.6 L539.3 251.5 L541.2 251.4 L543.1 251.3 L545.0 251.2 L546.9 251.1 L548.8 251.0 L550.6 250.8 L552.5 250.7 L554.4 250.5 L556.3 250.4 L558.2 250.3 L560.1 250.1 L562.0 250.0 L564.0 249.9 L566.0 249.7 L568.0 249.6 L570.0 249.4 L572.0 249.3 L574.0 249.1 L576.0 249.0 L578.0 248.8 L580.0 248.7 L582.0 248.5 L584.0 248.4 L586.0 248.2 L588.0 248.1 L590.0 247.9 L592.0 247.8 L594.0 247.7 L596.0 247.5 L598.0 247.4 L600.0 247.2 L602.0 247.1 L604.0 247.0 L606.0 246.8 L608.0 246.7 L610.0 246.6 L612.0 246.5 L614.0 246.4 L616.0 246.3 L618.0 246.2 L620.0 246.1 L622.0 246.0 L624.0 245.9 L626.0 245.8 L628.0 245.7 L629.9 245.7 L631.9 245.6 L633.9 245.5 L635.9 245.4 L637.9 245.3 L639.9 245.3 L641.9 245.2 L643.9 245.1 L645.9 245.1 L647.9 245.0 L649.9 244.9 L651.9 244.9 L653.9 244.8 L655.9 244.8 L657.9 244.7 L659.8 244.7 L661.8 244.6 L663.8 244.6 L665.8 244.5 L667.8 244.5 L669.8 244.5 L671.8 244.4 L673.8 244.4"/>
<path d="M505.5 240.5 L507.5 240.5 L509.4 240.5 L511.4 240.5 L513.3 240.5 L515.3 240.6 L517.2 240.6 L519.2 240.7 L521.1 240.7 L523.1 240.8 L525.0 240.9 L527.0 241.0 L529.0 241.1 L530.9 241.2 L532.9 241.3 L534.8 241.5 L536.8 241.7 L538.7 241.9 L540.7 242.1 L542.6 242.3 L544.6 242.5 L546.5 242.8 L548.5 243.1 L550.5 243.4 L552.4 243.7 L554.4 244.1 L556.3 244.4 L558.3 244.8 L560.2 245.3 L562.2 245.7 L564.1 246.2 L566.1 246.7 L568.0 247.2 L570.0 247.8 L572.0 248.4 L573.9 249.1 L575.9 249.8 L577.9 250.6 L579.8 251.4 L581.8 252.3 L583.8 253.2 L585.7 254.2 L587.7 255.2 L589.6 256.2 L591.6 257.3 L593.6 258.4 L595.5 259.5 L597.5 260.6 L599.5 261.7 L601.4 262.9 L603.4 264.0 L605.4 265.2 L607.3 266.3 L609.3 267.4 L611.2 268.6 L613.2 269.7 L615.2 270.8 L617.1 271.9 L619.1 273.0 L621.1 274.0 L623.0 275.0 L625.0 276.0 L627.0 277.0 L628.9 277.9 L630.9 278.8 L632.8 279.8 L634.8 280.7 L636.7 281.6 L638.7 282.6 L640.6 283.5 L642.6 284.4 L644.5 285.3 L646.5 286.2 L648.4 287.1 L650.4 288.0 L652.3 288.9 L654.3 289.8 L656.2 290.7 L658.2 291.6 L660.1 292.4 L662.1 293.3 L664.0 294.2 L666.0 295.1 L667.9 295.9 L669.9 296.8 L671.8 297.6 L673.8 298.5"/>
<path d="M505.5 241.0 L507.5 241.3 L509.4 241.6 L511.4 241.9 L513.3 242.2 L515.3 242.5 L517.2 242.9 L519.2 243.2 L521.1 243.6 L523.1 243.9 L525.0 244.3 L527.0 244.7 L529.0 245.1 L530.9 245.6 L532.9 246.0 L534.8 246.4 L536.8 246.9 L538.7 247.4 L540.7 247.8 L542.6 248.3 L544.6 248.8 L546.5 249.3 L548.5 249.8 L550.5 250.4 L552.4 250.9 L554.4 251.4 L556.3 252.0 L558.3 252.5 L560.2 253.1 L562.2 253.7 L564.1 254.3 L566.1 254.9 L568.0 255.5 L570.0 256.1 L572.0 256.7 L573.9 257.4 L575.9 258.1 L577.9 258.8 L579.8 259.5 L581.8 260.2 L583.8 261.0 L585.7 261.8 L587.7 262.6 L589.6 263.4 L591.6 264.2 L593.6 265.0 L595.5 265.9 L597.5 266.7 L599.5 267.6 L601.4 268.4 L603.4 269.3 L605.4 270.2 L607.3 271.0 L609.3 271.9 L611.2 272.8 L613.2 273.7 L615.2 274.5 L617.1 275.4 L619.1 276.2 L621.1 277.1 L623.0 277.9 L625.0 278.7 L627.0 279.5 L628.9 280.3 L630.9 281.1 L632.8 281.9 L634.8 282.7 L636.7 283.5 L638.7 284.4 L640.6 285.2 L642.6 286.0 L644.5 286.8 L646.5 287.6 L648.4 288.4 L650.4 289.2 L652.3 290.0 L654.3 290.9 L656.2 291.7 L658.2 292.5 L660.1 293.3 L662.1 294.1 L664.0 294.9 L666.0 295.7 L667.9 296.6 L669.9 297.4 L671.8 298.2 L673.8 299.0"/>
<path d="M505.5 246.5 L507.5 246.7 L509.4 246.9 L511.4 247.1 L513.3 247.3 L515.3 247.5 L517.2 247.8 L519.2 248.0 L521.1 248.3 L523.1 248.6 L525.0 248.9 L527.0 249.2 L529.0 249.5 L530.9 249.9 L532.9 250.2 L534.8 250.6 L536.8 251.0 L538.7 251.4 L540.7 251.8 L542.6 252.2 L544.6 252.6 L546.5 253.1 L548.5 253.5 L550.5 254.0 L552.4 254.5 L554.4 254.9 L556.3 255.4 L558.3 255.9 L560.2 256.5 L562.2 257.0 L564.1 257.5 L566.1 258.1 L568.0 258.6 L570.0 259.2 L572.0 259.8 L573.9 260.4 L575.9 261.1 L577.9 261.7 L579.8 262.4 L581.8 263.2 L583.8 263.9 L585.7 264.7 L587.7 265.5 L589.6 266.3 L591.6 267.1 L593.6 267.9 L595.5 268.8 L597.5 269.6 L599.5 270.5 L601.4 271.4 L603.4 272.2 L605.4 273.1 L607.3 274.0 L609.3 274.8 L611.2 275.7 L613.2 276.5 L615.2 277.4 L617.1 278.2 L619.1 279.0 L621.1 279.8 L623.0 280.6 L625.0 281.4 L627.0 282.2 L628.9 282.9 L630.9 283.7 L632.8 284.4 L634.8 285.2 L636.7 285.9 L638.7 286.6 L640.6 287.4 L642.6 288.1 L644.5 288.8 L646.5 289.6 L648.4 290.3 L650.4 291.0 L652.3 291.7 L654.3 292.4 L656.2 293.2 L658.2 293.9 L660.1 294.6 L662.1 295.3 L664.0 296.0 L666.0 296.7 L667.9 297.4 L669.9 298.1 L671.8 298.8 L673.8 299.5"/>
<path d="M505.5 254.5 L507.5 254.7 L509.4 254.9 L511.4 255.2 L513.3 255.4 L515.3 255.7 L517.2 256.0 L519.2 256.2 L521.1 256.5 L523.1 256.8 L525.0 257.1 L527.0 257.4 L529.0 257.8 L530.9 258.1 L532.9 258.5 L534.8 258.8 L536.8 259.2 L538.7 259.5 L540.7 259.9 L542.6 260.3 L544.6 260.7 L546.5 261.1 L548.5 261.5 L550.5 261.9 L552.4 262.3 L554.4 262.8 L556.3 263.2 L558.3 263.7 L560.2 264.1 L562.2 264.6 L564.1 265.1 L566.1 265.5 L568.0 266.0 L570.0 266.5 L572.0 267.0 L573.9 267.5 L575.9 268.1 L577.9 268.6 L579.8 269.2 L581.8 269.8 L583.8 270.4 L585.7 271.1 L587.7 271.7 L589.6 272.4 L591.6 273.0 L593.6 273.7 L595.5 274.4 L597.5 275.1 L599.5 275.8 L601.4 276.4 L603.4 277.1 L605.4 277.8 L607.3 278.5 L609.3 279.2 L611.2 279.9 L613.2 280.6 L615.2 281.3 L617.1 282.0 L619.1 282.6 L621.1 283.3 L623.0 284.0 L625.0 284.6 L627.0 285.2 L628.9 285.9 L630.9 286.5 L632.8 287.1 L634.8 287.7 L636.7 288.4 L638.7 289.0 L640.6 289.6 L642.6 290.2 L644.5 290.8 L646.5 291.5 L648.4 292.1 L650.4 292.7 L652.3 293.3 L654.3 293.9 L656.2 294.5 L658.2 295.1 L660.1 295.8 L662.1 296.4 L664.0 297.0 L666.0 297.6 L667.9 298.2 L669.9 298.8 L671.8 299.4 L673.8 300.0"/>
<path d="M505.5 255.3 L507.5 255.6 L509.4 255.8 L511.4 256.1 L513.3 256.4 L515.3 256.7 L517.2 257.0 L519.2 257.3 L521.1 257.6 L523.1 257.9 L525.0 258.3 L527.0 258.6 L529.0 259.0 L530.9 259.4 L532.9 259.7 L534.8 260.1 L536.8 260.5 L538.7 260.9 L540.7 261.4 L542.6 261.8 L544.6 262.2 L546.5 262.6 L548.5 263.1 L550.5 263.5 L552.4 264.0 L554.4 264.5 L556.3 265.0 L558.3 265.4 L560.2 265.9 L562.2 266.4 L564.1 266.9 L566.1 267.5 L568.0 268.0 L570.0 268.5 L572.0 269.0 L573.9 269.6 L575.9 270.2 L577.9 270.8 L579.8 271.5 L581.8 272.1 L583.8 272.8 L585.7 273.5 L587.7 274.2 L589.6 274.9 L591.6 275.6 L593.6 276.4 L595.5 277.1 L597.5 277.8 L599.5 278.6 L601.4 279.3 L603.4 280.1 L605.4 280.8 L607.3 281.6 L609.3 282.3 L611.2 283.0 L613.2 283.7 L615.2 284.4 L617.1 285.1 L619.1 285.8 L621.1 286.4 L623.0 287.1 L625.0 287.7 L627.0 288.3 L628.9 288.9 L630.9 289.5 L632.8 290.0 L634.8 290.6 L636.7 291.2 L638.7 291.7 L640.6 292.3 L642.6 292.8 L644.5 293.3 L646.5 293.9 L648.4 294.4 L650.4 294.9 L652.3 295.4 L654.3 295.9 L656.2 296.4 L658.2 296.9 L660.1 297.3 L662.1 297.8 L664.0 298.3 L666.0 298.7 L667.9 299.2 L669.9 299.6 L671.8 300.1 L673.8 300.5"/>
<path d="M505.5 260.4 L507.5 260.5 L509.4 260.6 L511.4 260.7 L513.3 260.9 L515.3 261.0 L517.2 261.2 L519.2 261.4 L521.1 261.6 L523.1 261.8 L525.0 262.0 L527.0 262.2 L529.0 262.5 L530.9 262.8 L532.9 263.0 L534.8 263.3 L536.8 263.6 L538.7 264.0 L540.7 264.3 L542.6 264.6 L544.6 265.0 L546.5 265.4 L548.5 265.7 L550.5 266.1 L552.4 266.5 L554.4 266.9 L556.3 267.4 L558.3 267.8 L560.2 268.2 L562.2 268.7 L564.1 269.1 L566.1 269.6 L568.0 270.1 L570.0 270.6 L572.0 271.1 L573.9 271.7 L575.9 272.3 L577.9 272.9 L579.8 273.6 L581.8 274.3 L583.8 275.0 L585.7 275.7 L587.7 276.5 L589.6 277.3 L591.6 278.1 L593.6 278.9 L595.5 279.7 L597.5 280.5 L599.5 281.3 L601.4 282.1 L603.4 282.9 L605.4 283.8 L607.3 284.6 L609.3 285.3 L611.2 286.1 L613.2 286.9 L615.2 287.6 L617.1 288.3 L619.1 289.0 L621.1 289.7 L623.0 290.3 L625.0 290.9 L627.0 291.5 L628.9 292.0 L630.9 292.5 L632.8 293.1 L634.8 293.6 L636.7 294.1 L638.7 294.5 L640.6 295.0 L642.6 295.5 L644.5 295.9 L646.5 296.3 L648.4 296.7 L650.4 297.1 L652.3 297.5 L654.3 297.9 L656.2 298.3 L658.2 298.6 L660.1 298.9 L662.1 299.3 L664.0 299.6 L666.0 299.9 L667.9 300.2 L669.9 300.5 L671.8 300.7 L673.8 301.0"/>
<path d="M505.5 266.3 L507.5 266.4 L509.4 266.5 L511.4 266.7 L513.3 266.8 L515.3 267.0 L517.2 267.1 L519.2 267.3 L521.1 267.5 L523.1 267.7 L525.0 267.9 L527.0 268.2 L529.0 268.4 L530.9 268.7 L532.9 268.9 L534.8 269.2 L536.8 269.5 L538.7 269.8 L540.7 270.1 L542.6 270.4 L544.6 270.7 L546.5 271.1 L548.5 271.4 L550.5 271.8 L552.4 272.1 L554.4 272.5 L556.3 272.9 L558.3 273.3 L560.2 273.7 L562.2 274.1 L564.1 274.5 L566.1 274.9 L568.0 275.4 L570.0 275.8 L572.0 276.3 L573.9 276.8 L575.9 277.3 L577.9 277.9 L579.8 278.5 L581.8 279.1 L583.8 279.7 L585.7 280.4 L587.7 281.1 L589.6 281.7 L591.6 282.4 L593.6 283.2 L595.5 283.9 L597.5 284.6 L599.5 285.3 L601.4 286.0 L603.4 286.7 L605.4 287.5 L607.3 288.2 L609.3 288.8 L611.2 289.5 L613.2 290.2 L615.2 290.8 L617.1 291.4 L619.1 292.0 L621.1 292.6 L623.0 293.1 L625.0 293.6 L627.0 294.1 L628.9 294.5 L630.9 295.0 L632.8 295.4 L634.8 295.8 L636.7 296.2 L638.7 296.6 L640.6 296.9 L642.6 297.3 L644.5 297.6 L646.5 298.0 L648.4 298.3 L650.4 298.6 L652.3 298.9 L654.3 299.1 L656.2 299.4 L658.2 299.6 L660.1 299.9 L662.1 300.1 L664.0 300.3 L666.0 300.5 L667.9 300.7 L669.9 300.9 L671.8 301.0 L673.8 301.2"/>
<path d="M505.5 269.2 L507.5 269.3 L509.4 269.5 L511.4 269.6 L513.3 269.8 L515.3 270.0 L517.2 270.1 L519.2 270.3 L521.1 270.5 L523.1 270.8 L525.0 271.0 L527.0 271.2 L529.0 271.5 L530.9 271.7 L532.9 272.0 L534.8 272.3 L536.8 272.6 L538.7 272.9 L540.7 273.2 L542.6 273.5 L544.6 273.8 L546.5 274.2 L548.5 274.5 L550.5 274.9 L552.4 275.2 L554.4 275.6 L556.3 276.0 L558.3 276.4 L560.2 276.8 L562.2 277.2 L564.1 277.6 L566.1 278.0 L568.0 278.5 L570.0 278.9 L572.0 279.4 L573.9 279.9 L575.9 280.4 L577.9 281.0 L579.8 281.5 L581.8 282.2 L583.8 282.8 L585.7 283.4 L587.7 284.1 L589.6 284.8 L591.6 285.5 L593.6 286.2 L595.5 286.9 L597.5 287.6 L599.5 288.3 L601.4 289.0 L603.4 289.7 L605.4 290.4 L607.3 291.1 L609.3 291.7 L611.2 292.4 L613.2 293.0 L615.2 293.6 L617.1 294.2 L619.1 294.8 L621.1 295.3 L623.0 295.8 L625.0 296.2 L627.0 296.6 L628.9 297.0 L630.9 297.4 L632.8 297.8 L634.8 298.1 L636.7 298.4 L638.7 298.7 L640.6 299.0 L642.6 299.3 L644.5 299.5 L646.5 299.8 L648.4 300.0 L650.4 300.2 L652.3 300.4 L654.3 300.6 L656.2 300.7 L658.2 300.9 L660.1 301.0 L662.1 301.1 L664.0 301.2 L666.0 301.3 L667.9 301.4 L669.9 301.4 L671.8 301.5 L673.8 301.5"/>
<path d="M505.5 274.6 L507.5 274.6 L509.4 274.7 L511.4 274.7 L513.3 274.8 L515.3 274.9 L517.2 275.0 L519.2 275.1 L521.1 275.2 L523.1 275.3 L525.0 275.5 L527.0 275.7 L529.0 275.8 L530.9 276.0 L532.9 276.2 L534.8 276.4 L536.8 276.6 L538.7 276.9 L540.7 277.1 L542.6 277.4 L544.6 277.6 L546.5 277.9 L548.5 278.2 L550.5 278.5 L552.4 278.8 L554.4 279.1 L556.3 279.4 L558.3 279.8 L560.2 280.1 L562.2 280.5 L564.1 280.8 L566.1 281.2 L568.0 281.6 L570.0 282.0 L572.0 282.4 L573.9 282.9 L575.9 283.4 L577.9 283.9 L579.8 284.5 L581.8 285.1 L583.8 285.8 L585.7 286.4 L587.7 287.1 L589.6 287.8 L591.6 288.5 L593.6 289.2 L595.5 289.9 L597.5 290.6 L599.5 291.3 L601.4 292.1 L603.4 292.8 L605.4 293.4 L607.3 294.1 L609.3 294.8 L611.2 295.4 L613.2 296.0 L615.2 296.6 L617.1 297.1 L619.1 297.6 L621.1 298.1 L623.0 298.5 L625.0 298.9 L627.0 299.2 L628.9 299.5 L630.9 299.8 L632.8 300.1 L634.8 300.3 L636.7 300.5 L638.7 300.7 L640.6 300.9 L642.6 301.0 L644.5 301.2 L646.5 301.3 L648.4 301.4 L650.4 301.5 L652.3 301.6 L654.3 301.6 L656.2 301.7 L658.2 301.7 L660.1 301.7 L662.1 301.8 L664.0 301.8 L666.0 301.8 L667.9 301.8 L669.9 301.8 L671.8 301.8 L673.8 301.8"/>
<path d="M505.5 278.0 L507.5 278.1 L509.4 278.2 L511.4 278.3 L513.3 278.4 L515.3 278.5 L517.2 278.6 L519.2 278.8 L521.1 278.9 L523.1 279.1 L525.0 279.3 L527.0 279.5 L529.0 279.7 L530.9 279.9 L532.9 280.1 L534.8 280.4 L536.8 280.6 L538.7 280.8 L540.7 281.1 L542.6 281.4 L544.6 281.7 L546.5 281.9 L548.5 282.2 L550.5 282.6 L552.4 282.9 L554.4 283.2 L556.3 283.5 L558.3 283.9 L560.2 284.2 L562.2 284.6 L564.1 285.0 L566.1 285.3 L568.0 285.7 L570.0 286.1 L572.0 286.5 L573.9 287.0 L575.9 287.6 L577.9 288.2 L579.8 288.8 L581.8 289.5 L583.8 290.2 L585.7 290.9 L587.7 291.6 L589.6 292.4 L591.6 293.2 L593.6 293.9 L595.5 294.7 L597.5 295.5 L599.5 296.2 L601.4 297.0 L603.4 297.7 L605.4 298.3 L607.3 299.0 L609.3 299.6 L611.2 300.1 L613.2 300.6 L615.2 301.0 L617.1 301.4 L619.1 301.7 L621.1 301.9 L623.0 302.1 L625.0 302.1 L627.0 302.1 L628.9 302.1 L630.9 302.1 L632.8 302.1 L634.8 302.1 L636.7 302.1 L638.7 302.1 L640.6 302.1 L642.6 302.1 L644.5 302.1 L646.5 302.1 L648.4 302.1 L650.4 302.1 L652.3 302.1 L654.3 302.1 L656.2 302.1 L658.2 302.1 L660.1 302.1 L662.1 302.1 L664.0 302.0 L666.0 302.0 L667.9 302.0 L669.9 302.0 L671.8 302.0 L673.8 302.0"/>
<path d="M505.5 280.8 L507.5 281.0 L509.4 281.3 L511.4 281.5 L513.3 281.8 L515.3 282.0 L517.2 282.3 L519.2 282.6 L521.1 282.8 L523.1 283.1 L525.0 283.4 L527.0 283.7 L529.0 284.0 L530.9 284.3 L532.9 284.6 L534.8 284.9 L536.8 285.2 L538.7 285.6 L540.7 285.9 L542.6 286.2 L544.6 286.6 L546.5 286.9 L548.5 287.2 L550.5 287.6 L552.4 287.9 L554.4 288.3 L556.3 288.7 L558.3 289.0 L560.2 289.4 L562.2 289.8 L564.1 290.1 L566.1 290.5 L568.0 290.9 L570.0 291.3 L572.0 291.7 L573.9 292.2 L575.9 292.7 L577.9 293.2 L579.8 293.8 L581.8 294.3 L583.8 294.9 L585.7 295.6 L587.7 296.2 L589.6 296.8 L591.6 297.5 L593.6 298.1 L595.5 298.7 L597.5 299.4 L599.5 300.0 L601.4 300.6 L603.4 301.2 L605.4 301.7 L607.3 302.2 L609.3 302.7 L611.2 303.1 L613.2 303.5 L615.2 303.9 L617.1 304.2 L619.1 304.4 L621.1 304.6 L623.0 304.7 L625.0 304.7 L627.0 304.7 L628.9 304.7 L630.9 304.7 L632.8 304.7 L634.8 304.7 L636.7 304.7 L638.7 304.7 L640.6 304.6 L642.6 304.6 L644.5 304.6 L646.5 304.5 L648.4 304.5 L650.4 304.4 L652.3 304.3 L654.3 304.2 L656.2 304.1 L658.2 304.0 L660.1 303.9 L662.1 303.7 L664.0 303.6 L666.0 303.4 L667.9 303.2 L669.9 303.0 L671.8 302.8 L673.8 302.5"/>
<path d="M505.5 288.6 L507.5 288.6 L509.4 288.6 L511.4 288.7 L513.3 288.7 L515.3 288.8 L517.2 288.9 L519.2 289.0 L521.1 289.0 L523.1 289.2 L525.0 289.3 L527.0 289.4 L529.0 289.5 L530.9 289.7 L532.9 289.8 L534.8 290.0 L536.8 290.2 L538.7 290.3 L540.7 290.5 L542.6 290.7 L544.6 290.9 L546.5 291.2 L548.5 291.4 L550.5 291.6 L552.4 291.9 L554.4 292.1 L556.3 292.4 L558.3 292.6 L560.2 292.9 L562.2 293.2 L564.1 293.5 L566.1 293.8 L568.0 294.1 L570.0 294.4 L572.0 294.7 L573.9 295.1 L575.9 295.6 L577.9 296.1 L579.8 296.6 L581.8 297.2 L583.8 297.8 L585.7 298.4 L587.7 299.0 L589.6 299.6 L591.6 300.3 L593.6 301.0 L595.5 301.6 L597.5 302.3 L599.5 302.9 L601.4 303.5 L603.4 304.1 L605.4 304.7 L607.3 305.2 L609.3 305.7 L611.2 306.2 L613.2 306.6 L615.2 307.0 L617.1 307.3 L619.1 307.6 L621.1 307.7 L623.0 307.9 L625.0 307.9 L627.0 307.9 L628.9 307.9 L630.9 307.9 L632.8 307.8 L634.8 307.8 L636.7 307.8 L638.7 307.7 L640.6 307.6 L642.6 307.5 L644.5 307.4 L646.5 307.3 L648.4 307.1 L650.4 307.0 L652.3 306.8 L654.3 306.6 L656.2 306.3 L658.2 306.1 L660.1 305.8 L662.1 305.5 L664.0 305.2 L666.0 304.8 L667.9 304.4 L669.9 304.0 L671.8 303.5 L673.8 303.0"/>
<path d="M505.5 289.4 L507.5 289.6 L509.4 289.8 L511.4 290.0 L513.3 290.2 L515.3 290.4 L517.2 290.6 L519.2 290.8 L521.1 291.1 L523.1 291.3 L525.0 291.6 L527.0 291.8 L529.0 292.1 L530.9 292.4 L532.9 292.6 L534.8 292.9 L536.8 293.2 L538.7 293.5 L540.7 293.8 L542.6 294.1 L544.6 294.4 L546.5 294.7 L548.5 295.0 L550.5 295.3 L552.4 295.6 L554.4 296.0 L556.3 296.3 L558.3 296.6 L560.2 296.9 L562.2 297.3 L564.1 297.6 L566.1 297.9 L568.0 298.3 L570.0 298.6 L572.0 299.0 L573.9 299.3 L575.9 299.7 L577.9 300.2 L579.9 300.6 L581.8 301.1 L583.8 301.6 L585.8 302.0 L587.8 302.5 L589.7 303.0 L591.7 303.5 L593.7 304.0 L595.6 304.4 L597.6 304.9 L599.6 305.3 L601.6 305.7 L603.5 306.1 L605.5 306.5 L607.5 306.9 L609.5 307.2 L611.5 307.6 L613.5 307.9 L615.5 308.2 L617.5 308.6 L619.5 308.9 L621.5 309.2 L623.5 309.4 L625.5 309.6 L627.5 309.8 L629.5 310.0 L631.5 310.1 L633.5 310.2 L635.5 310.2 L637.5 310.2 L639.5 310.1 L641.5 309.9 L643.5 309.8 L645.5 309.5 L647.5 309.3 L649.5 309.0 L651.5 308.7 L653.5 308.3 L655.5 308.0 L657.3 307.7 L659.2 307.3 L661.0 306.9 L662.8 306.5 L664.6 306.1 L666.5 305.6 L668.3 305.1 L670.1 304.6 L672.0 304.1 L673.8 303.5"/>
<path d="M505.5 292.8 L507.5 292.9 L509.5 292.9 L511.5 293.0 L513.5 293.2 L515.5 293.3 L517.5 293.5 L519.5 293.6 L521.5 293.8 L523.5 294.0 L525.5 294.3 L527.5 294.5 L529.5 294.7 L531.5 295.0 L533.5 295.3 L535.5 295.5 L537.5 295.8 L539.5 296.1 L541.5 296.4 L543.5 296.7 L545.5 297.0 L547.4 297.3 L549.3 297.7 L551.2 298.0 L553.0 298.4 L554.9 298.9 L556.8 299.3 L558.7 299.8 L560.6 300.3 L562.5 300.7 L564.3 301.2 L566.2 301.7 L568.1 302.2 L570.0 302.7 L572.0 303.2 L573.9 303.7 L575.9 304.2 L577.9 304.6 L579.9 305.1 L581.8 305.6 L583.8 306.0 L585.8 306.5 L587.8 307.0 L589.7 307.5 L591.7 308.0 L593.7 308.5 L595.6 309.1 L597.6 309.7 L599.6 310.3 L601.6 310.9 L603.5 311.6 L605.5 312.3 L607.5 313.6 L609.5 315.8 L611.5 318.0"/>
<path d="M505.5 297.0 L507.5 297.1 L509.5 297.3 L511.5 297.4 L513.5 297.6 L515.5 297.8 L517.5 298.0 L519.5 298.2 L521.5 298.4 L523.5 298.6 L525.5 298.8 L527.5 299.0 L529.5 299.3 L531.5 299.5 L533.4 299.7 L535.3 300.0 L537.2 300.2 L539.1 300.4 L541.0 300.7 L542.9 300.9 L544.8 301.2 L546.8 301.4 L548.7 301.7 L550.6 302.0 L552.5 302.3 L554.4 302.6 L556.3 303.0 L558.2 303.4 L560.1 303.8 L562.0 304.2 L564.0 304.7 L565.9 305.2 L567.9 305.7 L569.8 306.3 L571.8 306.9 L573.8 307.6 L575.7 308.3 L577.7 309.0 L579.6 309.7 L581.6 310.6 L583.5 311.4 L585.5 312.3 L587.5 313.7 L589.5 315.8 L591.5 318.0"/>
<path d="M505.5 297.8 L507.5 298.0 L509.5 298.1 L511.5 298.3 L513.5 298.5 L515.5 298.7 L517.5 298.9 L519.5 299.1 L521.5 299.3 L523.5 299.5 L525.5 299.7 L527.5 300.0 L529.5 300.2 L531.5 300.5 L533.4 300.8 L535.3 301.0 L537.2 301.3 L539.1 301.6 L541.0 301.9 L542.9 302.1 L544.8 302.4 L546.8 302.7 L548.7 303.0 L550.6 303.4 L552.5 303.7 L554.4 304.0 L556.3 304.3 L558.2 304.7 L560.1 305.0 L562.0 305.4 L564.0 305.8 L565.9 306.1 L567.9 306.5 L569.9 306.8 L571.8 307.2 L573.8 307.5 L575.8 307.9 L577.8 308.3 L579.7 308.7 L581.7 309.1 L583.7 309.5 L585.6 310.0 L587.6 310.5 L589.6 311.1 L591.5 311.7 L593.5 312.3 L595.5 313.6 L597.5 315.7 L599.5 318.0"/>
<path d="M505.5 306.1 L507.5 306.1 L509.5 306.2 L511.5 306.4 L513.5 306.6 L515.5 306.8 L517.5 307.1 L519.5 307.4 L521.5 307.7 L523.5 308.1 L525.5 308.5 L527.4 308.9 L529.3 309.3 L531.2 309.8 L533.2 310.5 L535.1 311.3 L537.0 312.3 L538.5 313.7 L540.0 315.7 L541.5 318.0"/>
<path d="M505.5 308.0 L507.5 308.1 L509.5 308.2 L511.5 308.5 L513.5 308.8 L515.5 309.2 L517.5 309.6 L519.5 310.0 L521.5 310.4 L523.5 311.1 L525.5 312.3 L527.5 314.6 L529.5 318.0"/>
<path d="M645.5 318.0 L647.5 315.8 L649.5 313.8 L651.5 312.3 L653.4 311.3 L655.2 310.2 L657.1 309.1 L658.9 308.0 L660.8 307.0 L662.6 306.0 L664.5 305.1 L666.4 304.3 L668.2 303.6 L670.1 303.0 L671.9 302.7 L673.8 302.5"/>
<path d="M653.5 318.0 L655.2 315.8 L656.8 313.8 L658.5 312.3 L660.4 311.0 L662.3 309.8 L664.2 308.6 L666.1 307.4 L668.1 306.4 L670.0 305.7 L671.9 305.2 L673.8 305.0"/>
</g>
<line x1="504.95" y1="194.3" x2="673.80" y2="194.3" stroke="#d4404a" stroke-width="1.2" stroke-dasharray="2.5 1.6425"/>
<rect x="505.50" y="31.00" width="168.30" height="281.30" fill="none" stroke="#555" stroke-width="1.3"/>
<text x="500.5" y="308.0" font-size="16" text-anchor="end">-1.2</text>
<text x="500.5" y="271.7" font-size="16" text-anchor="end">-0.8</text>
<text x="500.5" y="235.4" font-size="16" text-anchor="end">-0.4</text>
<text x="500.5" y="199.1" font-size="16" text-anchor="end">0</text>
<text x="500.5" y="162.8" font-size="16" text-anchor="end">0.4</text>
<text x="500.5" y="126.5" font-size="16" text-anchor="end">0.8</text>
<text x="500.5" y="90.2" font-size="16" text-anchor="end">1.2</text>
<text x="500.5" y="53.9" font-size="16" text-anchor="end">1.6</text>
<path d="M503.50 312.48H505.50M673.80 312.48H675.80M502.50 303.40H505.50M673.80 303.40H676.80M503.50 294.32H505.50M673.80 294.32H675.80M503.50 285.25H505.50M673.80 285.25H675.80M503.50 276.18H505.50M673.80 276.18H675.80M502.50 267.10H505.50M673.80 267.10H676.80M503.50 258.02H505.50M673.80 258.02H675.80M503.50 248.95H505.50M673.80 248.95H675.80M503.50 239.88H505.50M673.80 239.88H675.80M502.50 230.80H505.50M673.80 230.80H676.80M503.50 221.72H505.50M673.80 221.72H675.80M503.50 212.65H505.50M673.80 212.65H675.80M503.50 203.57H505.50M673.80 203.57H675.80M502.50 194.50H505.50M673.80 194.50H676.80M503.50 185.43H505.50M673.80 185.43H675.80M503.50 176.35H505.50M673.80 176.35H675.80M503.50 167.28H505.50M673.80 167.28H675.80M502.50 158.20H505.50M673.80 158.20H676.80M503.50 149.12H505.50M673.80 149.12H675.80M503.50 140.05H505.50M673.80 140.05H675.80M503.50 130.97H505.50M673.80 130.97H675.80M502.50 121.90H505.50M673.80 121.90H676.80M503.50 112.83H505.50M673.80 112.83H675.80M503.50 103.75H505.50M673.80 103.75H675.80M503.50 94.67H505.50M673.80 94.67H675.80M502.50 85.60H505.50M673.80 85.60H676.80M503.50 76.52H505.50M673.80 76.52H675.80M503.50 67.45H505.50M673.80 67.45H675.80M503.50 58.38H505.50M673.80 58.38H675.80M502.50 49.30H505.50M673.80 49.30H676.80M503.50 40.22H505.50M673.80 40.22H675.80M503.50 31.15H505.50M673.80 31.15H675.80" stroke="#555" stroke-width="1"/>
<text transform="translate(470.1 181.0) rotate(-90)" font-size="16.5" text-anchor="middle">Energy (eV)</text>
<line x1="510.6" y1="164.5" x2="510.6" y2="197" stroke="#111" stroke-width="1.4"/>
<path d="M510.6 161.6 L508.4 166.8 L512.8 166.8Z M510.6 200.3 L508.4 195.1 L512.8 195.1Z" fill="#111"/>
<text x="517.1" y="186.8" font-size="14.5">0.495eV</text>
<path d="M503.4 330.4V319.6H509.9" fill="none" stroke="#111" stroke-width="1.5"/>
<text x="667.8" y="329.8" font-size="16">Y</text>
<line x1="72.6" y1="348.2" x2="71.5" y2="352.2" stroke="#8a8a84" stroke-width="1.15"/><line x1="71.5" y1="352.2" x2="70.5" y2="356.3" stroke="#e0da30" stroke-width="0.95"/><line x1="88.1" y1="347.2" x2="88.1" y2="351.8" stroke="#8a8a84" stroke-width="1.15"/><line x1="88.1" y1="351.8" x2="88.1" y2="356.3" stroke="#e0da30" stroke-width="0.95"/><line x1="105.2" y1="347.2" x2="105.2" y2="351.8" stroke="#8a8a84" stroke-width="1.15"/><line x1="105.2" y1="351.8" x2="105.2" y2="356.3" stroke="#e0da30" stroke-width="0.95"/><line x1="122.4" y1="347.2" x2="122.4" y2="351.8" stroke="#8a8a84" stroke-width="1.15"/><line x1="122.4" y1="351.8" x2="122.4" y2="356.3" stroke="#e0da30" stroke-width="0.95"/><line x1="139.5" y1="347.2" x2="139.5" y2="351.8" stroke="#8a8a84" stroke-width="1.15"/><line x1="139.5" y1="351.8" x2="139.5" y2="356.3" stroke="#e0da30" stroke-width="0.95"/><line x1="156.7" y1="347.2" x2="156.7" y2="351.8" stroke="#8a8a84" stroke-width="1.15"/><line x1="156.7" y1="351.8" x2="156.7" y2="356.3" stroke="#e0da30" stroke-width="0.95"/><line x1="173.8" y1="347.2" x2="173.8" y2="351.8" stroke="#8a8a84" stroke-width="1.15"/><line x1="173.8" y1="351.8" x2="173.8" y2="356.3" stroke="#e0da30" stroke-width="0.95"/><line x1="189.4" y1="348.2" x2="190.5" y2="352.2" stroke="#8a8a84" stroke-width="1.15"/><line x1="190.5" y1="352.2" x2="191.6" y2="356.3" stroke="#e0da30" stroke-width="0.95"/><line x1="79.5" y1="361.5" x2="79.5" y2="366.2" stroke="#8a8a84" stroke-width="1.15"/><line x1="79.5" y1="366.2" x2="79.5" y2="370.9" stroke="#e0da30" stroke-width="0.95"/><line x1="96.6" y1="361.5" x2="96.6" y2="366.2" stroke="#8a8a84" stroke-width="1.15"/><line x1="96.6" y1="366.2" x2="96.6" y2="370.9" stroke="#e0da30" stroke-width="0.95"/><line x1="113.8" y1="361.5" x2="113.8" y2="366.2" stroke="#8a8a84" stroke-width="1.15"/><line x1="113.8" y1="366.2" x2="113.8" y2="370.9" stroke="#e0da30" stroke-width="0.95"/><line x1="130.9" y1="361.5" x2="130.9" y2="366.2" stroke="#8a8a84" stroke-width="1.15"/><line x1="130.9" y1="366.2" x2="130.9" y2="370.9" stroke="#e0da30" stroke-width="0.95"/><line x1="148.1" y1="361.5" x2="148.1" y2="366.2" stroke="#8a8a84" stroke-width="1.15"/><line x1="148.1" y1="366.2" x2="148.1" y2="370.9" stroke="#e0da30" stroke-width="0.95"/><line x1="165.2" y1="361.5" x2="165.2" y2="366.2" stroke="#8a8a84" stroke-width="1.15"/><line x1="165.2" y1="366.2" x2="165.2" y2="370.9" stroke="#e0da30" stroke-width="0.95"/><line x1="182.3" y1="361.5" x2="182.3" y2="366.2" stroke="#8a8a84" stroke-width="1.15"/><line x1="182.3" y1="366.2" x2="182.3" y2="370.9" stroke="#e0da30" stroke-width="0.95"/><line x1="70.5" y1="356.3" x2="75.0" y2="358.9" stroke="#e0da30" stroke-width="0.95"/><line x1="75.0" y1="358.9" x2="79.5" y2="361.5" stroke="#8a8a84" stroke-width="1.15"/><line x1="88.1" y1="356.3" x2="83.8" y2="358.9" stroke="#e0da30" stroke-width="0.95"/><line x1="83.8" y1="358.9" x2="79.5" y2="361.5" stroke="#8a8a84" stroke-width="1.15"/><line x1="88.1" y1="356.3" x2="92.4" y2="358.9" stroke="#e0da30" stroke-width="0.95"/><line x1="92.4" y1="358.9" x2="96.6" y2="361.5" stroke="#8a8a84" stroke-width="1.15"/><line x1="105.2" y1="356.3" x2="100.9" y2="358.9" stroke="#e0da30" stroke-width="0.95"/><line x1="100.9" y1="358.9" x2="96.6" y2="361.5" stroke="#8a8a84" stroke-width="1.15"/><line x1="105.2" y1="356.3" x2="109.5" y2="358.9" stroke="#e0da30" stroke-width="0.95"/><line x1="109.5" y1="358.9" x2="113.8" y2="361.5" stroke="#8a8a84" stroke-width="1.15"/><line x1="122.4" y1="356.3" x2="118.1" y2="358.9" stroke="#e0da30" stroke-width="0.95"/><line x1="118.1" y1="358.9" x2="113.8" y2="361.5" stroke="#8a8a84" stroke-width="1.15"/><line x1="122.4" y1="356.3" x2="126.7" y2="358.9" stroke="#e0da30" stroke-width="0.95"/><line x1="126.7" y1="358.9" x2="130.9" y2="361.5" stroke="#8a8a84" stroke-width="1.15"/><line x1="139.5" y1="356.3" x2="135.2" y2="358.9" stroke="#e0da30" stroke-width="0.95"/><line x1="135.2" y1="358.9" x2="130.9" y2="361.5" stroke="#8a8a84" stroke-width="1.15"/><line x1="139.5" y1="356.3" x2="143.8" y2="358.9" stroke="#e0da30" stroke-width="0.95"/><line x1="143.8" y1="358.9" x2="148.1" y2="361.5" stroke="#8a8a84" stroke-width="1.15"/><line x1="156.7" y1="356.3" x2="152.4" y2="358.9" stroke="#e0da30" stroke-width="0.95"/><line x1="152.4" y1="358.9" x2="148.1" y2="361.5" stroke="#8a8a84" stroke-width="1.15"/><line x1="156.7" y1="356.3" x2="160.9" y2="358.9" stroke="#e0da30" stroke-width="0.95"/><line x1="160.9" y1="358.9" x2="165.2" y2="361.5" stroke="#8a8a84" stroke-width="1.15"/><line x1="173.8" y1="356.3" x2="169.5" y2="358.9" stroke="#e0da30" stroke-width="0.95"/><line x1="169.5" y1="358.9" x2="165.2" y2="361.5" stroke="#8a8a84" stroke-width="1.15"/><line x1="173.8" y1="356.3" x2="178.1" y2="358.9" stroke="#e0da30" stroke-width="0.95"/><line x1="178.1" y1="358.9" x2="182.3" y2="361.5" stroke="#8a8a84" stroke-width="1.15"/><line x1="191.6" y1="356.3" x2="187.0" y2="358.9" stroke="#e0da30" stroke-width="0.95"/><line x1="187.0" y1="358.9" x2="182.3" y2="361.5" stroke="#8a8a84" stroke-width="1.15"/><line x1="79.5" y1="370.9" x2="76.2" y2="374.0" stroke="#e0da30" stroke-width="0.95"/><line x1="76.2" y1="374.0" x2="72.9" y2="377.1" stroke="#8a8a84" stroke-width="1.15"/><line x1="79.5" y1="370.9" x2="83.8" y2="373.7" stroke="#e0da30" stroke-width="0.95"/><line x1="83.8" y1="373.7" x2="88.1" y2="376.5" stroke="#8a8a84" stroke-width="1.15"/><line x1="96.6" y1="370.9" x2="92.4" y2="373.7" stroke="#e0da30" stroke-width="0.95"/><line x1="92.4" y1="373.7" x2="88.1" y2="376.5" stroke="#8a8a84" stroke-width="1.15"/><line x1="96.6" y1="370.9" x2="100.9" y2="373.7" stroke="#e0da30" stroke-width="0.95"/><line x1="100.9" y1="373.7" x2="105.2" y2="376.5" stroke="#8a8a84" stroke-width="1.15"/><line x1="113.8" y1="370.9" x2="109.5" y2="373.7" stroke="#e0da30" stroke-width="0.95"/><line x1="109.5" y1="373.7" x2="105.2" y2="376.5" stroke="#8a8a84" stroke-width="1.15"/><line x1="113.8" y1="370.9" x2="118.1" y2="373.7" stroke="#e0da30" stroke-width="0.95"/><line x1="118.1" y1="373.7" x2="122.4" y2="376.5" stroke="#8a8a84" stroke-width="1.15"/><line x1="130.9" y1="370.9" x2="126.7" y2="373.7" stroke="#e0da30" stroke-width="0.95"/><line x1="126.7" y1="373.7" x2="122.4" y2="376.5" stroke="#8a8a84" stroke-width="1.15"/><line x1="130.9" y1="370.9" x2="135.2" y2="373.7" stroke="#e0da30" stroke-width="0.95"/><line x1="135.2" y1="373.7" x2="139.5" y2="376.5" stroke="#8a8a84" stroke-width="1.15"/><line x1="148.1" y1="370.9" x2="143.8" y2="373.7" stroke="#e0da30" stroke-width="0.95"/><line x1="143.8" y1="373.7" x2="139.5" y2="376.5" stroke="#8a8a84" stroke-width="1.15"/><line x1="148.1" y1="370.9" x2="152.4" y2="373.7" stroke="#e0da30" stroke-width="0.95"/><line x1="152.4" y1="373.7" x2="156.7" y2="376.5" stroke="#8a8a84" stroke-width="1.15"/><line x1="165.2" y1="370.9" x2="160.9" y2="373.7" stroke="#e0da30" stroke-width="0.95"/><line x1="160.9" y1="373.7" x2="156.7" y2="376.5" stroke="#8a8a84" stroke-width="1.15"/><line x1="165.2" y1="370.9" x2="169.5" y2="373.7" stroke="#e0da30" stroke-width="0.95"/><line x1="169.5" y1="373.7" x2="173.8" y2="376.5" stroke="#8a8a84" stroke-width="1.15"/><line x1="182.3" y1="370.9" x2="178.1" y2="373.7" stroke="#e0da30" stroke-width="0.95"/><line x1="178.1" y1="373.7" x2="173.8" y2="376.5" stroke="#8a8a84" stroke-width="1.15"/><line x1="182.3" y1="370.9" x2="185.7" y2="374.0" stroke="#e0da30" stroke-width="0.95"/><line x1="185.7" y1="374.0" x2="189.0" y2="377.1" stroke="#8a8a84" stroke-width="1.15"/><circle cx="70.5" cy="356.3" r="2.35" fill="#ece630"/><circle cx="88.1" cy="356.3" r="2.35" fill="#ece630"/><circle cx="105.2" cy="356.3" r="2.35" fill="#ece630"/><circle cx="122.4" cy="356.3" r="2.35" fill="#ece630"/><circle cx="139.5" cy="356.3" r="2.35" fill="#ece630"/><circle cx="156.7" cy="356.3" r="2.35" fill="#ece630"/><circle cx="173.8" cy="356.3" r="2.35" fill="#ece630"/><circle cx="191.6" cy="356.3" r="2.35" fill="#ece630"/><circle cx="79.5" cy="370.9" r="2.35" fill="#ece630"/><circle cx="96.6" cy="370.9" r="2.35" fill="#ece630"/><circle cx="113.8" cy="370.9" r="2.35" fill="#ece630"/><circle cx="130.9" cy="370.9" r="2.35" fill="#ece630"/><circle cx="148.1" cy="370.9" r="2.35" fill="#ece630"/><circle cx="165.2" cy="370.9" r="2.35" fill="#ece630"/><circle cx="182.3" cy="370.9" r="2.35" fill="#ece630"/><circle cx="72.6" cy="348.2" r="2.25" fill="#e0e0dc" stroke="#6c6c66" stroke-width="1.8"/><circle cx="88.1" cy="347.2" r="2.25" fill="#e0e0dc" stroke="#6c6c66" stroke-width="1.8"/><circle cx="105.2" cy="347.2" r="2.25" fill="#e0e0dc" stroke="#6c6c66" stroke-width="1.8"/><circle cx="122.4" cy="347.2" r="2.25" fill="#e0e0dc" stroke="#6c6c66" stroke-width="1.8"/><circle cx="139.5" cy="347.2" r="2.25" fill="#e0e0dc" stroke="#6c6c66" stroke-width="1.8"/><circle cx="156.7" cy="347.2" r="2.25" fill="#e0e0dc" stroke="#6c6c66" stroke-width="1.8"/><circle cx="173.8" cy="347.2" r="2.25" fill="#e0e0dc" stroke="#6c6c66" stroke-width="1.8"/><circle cx="189.4" cy="348.2" r="2.25" fill="#e0e0dc" stroke="#6c6c66" stroke-width="1.8"/><circle cx="79.5" cy="361.5" r="2.25" fill="#e0e0dc" stroke="#6c6c66" stroke-width="1.8"/><circle cx="96.6" cy="361.5" r="2.25" fill="#e0e0dc" stroke="#6c6c66" stroke-width="1.8"/><circle cx="113.8" cy="361.5" r="2.25" fill="#e0e0dc" stroke="#6c6c66" stroke-width="1.8"/><circle cx="130.9" cy="361.5" r="2.25" fill="#e0e0dc" stroke="#6c6c66" stroke-width="1.8"/><circle cx="148.1" cy="361.5" r="2.25" fill="#e0e0dc" stroke="#6c6c66" stroke-width="1.8"/><circle cx="165.2" cy="361.5" r="2.25" fill="#e0e0dc" stroke="#6c6c66" stroke-width="1.8"/><circle cx="182.3" cy="361.5" r="2.25" fill="#e0e0dc" stroke="#6c6c66" stroke-width="1.8"/><circle cx="72.9" cy="377.1" r="2.25" fill="#e0e0dc" stroke="#6c6c66" stroke-width="1.8"/><circle cx="88.1" cy="376.5" r="2.25" fill="#e0e0dc" stroke="#6c6c66" stroke-width="1.8"/><circle cx="105.2" cy="376.5" r="2.25" fill="#e0e0dc" stroke="#6c6c66" stroke-width="1.8"/><circle cx="122.4" cy="376.5" r="2.25" fill="#e0e0dc" stroke="#6c6c66" stroke-width="1.8"/><circle cx="139.5" cy="376.5" r="2.25" fill="#e0e0dc" stroke="#6c6c66" stroke-width="1.8"/><circle cx="156.7" cy="376.5" r="2.25" fill="#e0e0dc" stroke="#6c6c66" stroke-width="1.8"/><circle cx="173.8" cy="376.5" r="2.25" fill="#e0e0dc" stroke="#6c6c66" stroke-width="1.8"/><circle cx="189.0" cy="377.1" r="2.25" fill="#e0e0dc" stroke="#6c6c66" stroke-width="1.8"/><line x1="280.2" y1="346.5" x2="278.9" y2="351.1" stroke="#8a8a84" stroke-width="1.15"/><line x1="278.9" y1="351.1" x2="277.5" y2="355.6" stroke="#e0da30" stroke-width="0.95"/><line x1="295.6" y1="345.5" x2="295.6" y2="350.6" stroke="#8a8a84" stroke-width="1.15"/><line x1="295.6" y1="350.6" x2="295.6" y2="355.6" stroke="#e0da30" stroke-width="0.95"/><line x1="313.2" y1="345.5" x2="313.2" y2="350.6" stroke="#8a8a84" stroke-width="1.15"/><line x1="313.2" y1="350.6" x2="313.2" y2="355.6" stroke="#e0da30" stroke-width="0.95"/><line x1="330.8" y1="345.5" x2="330.8" y2="350.6" stroke="#8a8a84" stroke-width="1.15"/><line x1="330.8" y1="350.6" x2="330.8" y2="355.6" stroke="#e0da30" stroke-width="0.95"/><line x1="348.4" y1="345.5" x2="348.4" y2="350.6" stroke="#8a8a84" stroke-width="1.15"/><line x1="348.4" y1="350.6" x2="348.4" y2="355.6" stroke="#e0da30" stroke-width="0.95"/><line x1="366.0" y1="345.5" x2="366.0" y2="350.6" stroke="#8a8a84" stroke-width="1.15"/><line x1="366.0" y1="350.6" x2="366.0" y2="355.6" stroke="#e0da30" stroke-width="0.95"/><line x1="383.6" y1="345.5" x2="383.6" y2="350.6" stroke="#8a8a84" stroke-width="1.15"/><line x1="383.6" y1="350.6" x2="383.6" y2="355.6" stroke="#e0da30" stroke-width="0.95"/><line x1="401.2" y1="345.5" x2="401.2" y2="350.6" stroke="#8a8a84" stroke-width="1.15"/><line x1="401.2" y1="350.6" x2="401.2" y2="355.6" stroke="#e0da30" stroke-width="0.95"/><line x1="418.8" y1="345.5" x2="418.8" y2="350.6" stroke="#8a8a84" stroke-width="1.15"/><line x1="418.8" y1="350.6" x2="418.8" y2="355.6" stroke="#e0da30" stroke-width="0.95"/><line x1="436.4" y1="345.5" x2="436.4" y2="350.6" stroke="#8a8a84" stroke-width="1.15"/><line x1="436.4" y1="350.6" x2="436.4" y2="355.6" stroke="#e0da30" stroke-width="0.95"/><line x1="286.1" y1="361.0" x2="286.1" y2="365.9" stroke="#8a8a84" stroke-width="1.15"/><line x1="286.1" y1="365.9" x2="286.1" y2="370.7" stroke="#e0da30" stroke-width="0.95"/><line x1="303.7" y1="361.0" x2="303.7" y2="365.9" stroke="#8a8a84" stroke-width="1.15"/><line x1="303.7" y1="365.9" x2="303.7" y2="370.7" stroke="#e0da30" stroke-width="0.95"/><line x1="321.3" y1="361.0" x2="321.3" y2="365.9" stroke="#8a8a84" stroke-width="1.15"/><line x1="321.3" y1="365.9" x2="321.3" y2="370.7" stroke="#e0da30" stroke-width="0.95"/><line x1="338.9" y1="361.0" x2="338.9" y2="365.9" stroke="#8a8a84" stroke-width="1.15"/><line x1="338.9" y1="365.9" x2="338.9" y2="370.7" stroke="#e0da30" stroke-width="0.95"/><line x1="356.5" y1="361.0" x2="356.5" y2="365.9" stroke="#8a8a84" stroke-width="1.15"/><line x1="356.5" y1="365.9" x2="356.5" y2="370.7" stroke="#e0da30" stroke-width="0.95"/><line x1="374.1" y1="361.0" x2="374.1" y2="365.9" stroke="#8a8a84" stroke-width="1.15"/><line x1="374.1" y1="365.9" x2="374.1" y2="370.7" stroke="#e0da30" stroke-width="0.95"/><line x1="391.7" y1="361.0" x2="391.7" y2="365.9" stroke="#8a8a84" stroke-width="1.15"/><line x1="391.7" y1="365.9" x2="391.7" y2="370.7" stroke="#e0da30" stroke-width="0.95"/><line x1="409.3" y1="361.0" x2="409.3" y2="365.9" stroke="#8a8a84" stroke-width="1.15"/><line x1="409.3" y1="365.9" x2="409.3" y2="370.7" stroke="#e0da30" stroke-width="0.95"/><line x1="426.9" y1="361.0" x2="426.9" y2="365.9" stroke="#8a8a84" stroke-width="1.15"/><line x1="426.9" y1="365.9" x2="426.9" y2="370.7" stroke="#e0da30" stroke-width="0.95"/><line x1="444.3" y1="362.1" x2="445.1" y2="366.4" stroke="#8a8a84" stroke-width="1.15"/><line x1="445.1" y1="366.4" x2="446.0" y2="370.7" stroke="#e0da30" stroke-width="0.95"/><line x1="277.5" y1="355.6" x2="281.8" y2="358.3" stroke="#e0da30" stroke-width="0.95"/><line x1="281.8" y1="358.3" x2="286.1" y2="361.0" stroke="#8a8a84" stroke-width="1.15"/><line x1="295.6" y1="355.6" x2="290.9" y2="358.3" stroke="#e0da30" stroke-width="0.95"/><line x1="290.9" y1="358.3" x2="286.1" y2="361.0" stroke="#8a8a84" stroke-width="1.15"/><line x1="295.6" y1="355.6" x2="299.7" y2="358.3" stroke="#e0da30" stroke-width="0.95"/><line x1="299.7" y1="358.3" x2="303.7" y2="361.0" stroke="#8a8a84" stroke-width="1.15"/><line x1="313.2" y1="355.6" x2="308.5" y2="358.3" stroke="#e0da30" stroke-width="0.95"/><line x1="308.5" y1="358.3" x2="303.7" y2="361.0" stroke="#8a8a84" stroke-width="1.15"/><line x1="313.2" y1="355.6" x2="317.2" y2="358.3" stroke="#e0da30" stroke-width="0.95"/><line x1="317.2" y1="358.3" x2="321.3" y2="361.0" stroke="#8a8a84" stroke-width="1.15"/><line x1="330.8" y1="355.6" x2="326.1" y2="358.3" stroke="#e0da30" stroke-width="0.95"/><line x1="326.1" y1="358.3" x2="321.3" y2="361.0" stroke="#8a8a84" stroke-width="1.15"/><line x1="330.8" y1="355.6" x2="334.9" y2="358.3" stroke="#e0da30" stroke-width="0.95"/><line x1="334.9" y1="358.3" x2="338.9" y2="361.0" stroke="#8a8a84" stroke-width="1.15"/><line x1="348.4" y1="355.6" x2="343.7" y2="358.3" stroke="#e0da30" stroke-width="0.95"/><line x1="343.7" y1="358.3" x2="338.9" y2="361.0" stroke="#8a8a84" stroke-width="1.15"/><line x1="348.4" y1="355.6" x2="352.5" y2="358.3" stroke="#e0da30" stroke-width="0.95"/><line x1="352.5" y1="358.3" x2="356.5" y2="361.0" stroke="#8a8a84" stroke-width="1.15"/><line x1="366.0" y1="355.6" x2="361.2" y2="358.3" stroke="#e0da30" stroke-width="0.95"/><line x1="361.2" y1="358.3" x2="356.5" y2="361.0" stroke="#8a8a84" stroke-width="1.15"/><line x1="366.0" y1="355.6" x2="370.1" y2="358.3" stroke="#e0da30" stroke-width="0.95"/><line x1="370.1" y1="358.3" x2="374.1" y2="361.0" stroke="#8a8a84" stroke-width="1.15"/><line x1="383.6" y1="355.6" x2="378.9" y2="358.3" stroke="#e0da30" stroke-width="0.95"/><line x1="378.9" y1="358.3" x2="374.1" y2="361.0" stroke="#8a8a84" stroke-width="1.15"/><line x1="383.6" y1="355.6" x2="387.7" y2="358.3" stroke="#e0da30" stroke-width="0.95"/><line x1="387.7" y1="358.3" x2="391.7" y2="361.0" stroke="#8a8a84" stroke-width="1.15"/><line x1="401.2" y1="355.6" x2="396.5" y2="358.3" stroke="#e0da30" stroke-width="0.95"/><line x1="396.5" y1="358.3" x2="391.7" y2="361.0" stroke="#8a8a84" stroke-width="1.15"/><line x1="401.2" y1="355.6" x2="405.3" y2="358.3" stroke="#e0da30" stroke-width="0.95"/><line x1="405.3" y1="358.3" x2="409.3" y2="361.0" stroke="#8a8a84" stroke-width="1.15"/><line x1="418.8" y1="355.6" x2="414.1" y2="358.3" stroke="#e0da30" stroke-width="0.95"/><line x1="414.1" y1="358.3" x2="409.3" y2="361.0" stroke="#8a8a84" stroke-width="1.15"/><line x1="418.8" y1="355.6" x2="422.9" y2="358.3" stroke="#e0da30" stroke-width="0.95"/><line x1="422.9" y1="358.3" x2="426.9" y2="361.0" stroke="#8a8a84" stroke-width="1.15"/><line x1="436.4" y1="355.6" x2="431.7" y2="358.3" stroke="#e0da30" stroke-width="0.95"/><line x1="431.7" y1="358.3" x2="426.9" y2="361.0" stroke="#8a8a84" stroke-width="1.15"/><line x1="436.4" y1="355.6" x2="440.4" y2="358.9" stroke="#e0da30" stroke-width="0.95"/><line x1="440.4" y1="358.9" x2="444.3" y2="362.1" stroke="#8a8a84" stroke-width="1.15"/><line x1="286.1" y1="370.7" x2="283.0" y2="373.8" stroke="#e0da30" stroke-width="0.95"/><line x1="283.0" y1="373.8" x2="279.8" y2="376.8" stroke="#8a8a84" stroke-width="1.15"/><line x1="286.1" y1="370.7" x2="290.9" y2="373.4" stroke="#e0da30" stroke-width="0.95"/><line x1="290.9" y1="373.4" x2="295.6" y2="376.2" stroke="#8a8a84" stroke-width="1.15"/><line x1="303.7" y1="370.7" x2="299.7" y2="373.4" stroke="#e0da30" stroke-width="0.95"/><line x1="299.7" y1="373.4" x2="295.6" y2="376.2" stroke="#8a8a84" stroke-width="1.15"/><line x1="303.7" y1="370.7" x2="308.5" y2="373.4" stroke="#e0da30" stroke-width="0.95"/><line x1="308.5" y1="373.4" x2="313.2" y2="376.2" stroke="#8a8a84" stroke-width="1.15"/><line x1="321.3" y1="370.7" x2="317.2" y2="373.4" stroke="#e0da30" stroke-width="0.95"/><line x1="317.2" y1="373.4" x2="313.2" y2="376.2" stroke="#8a8a84" stroke-width="1.15"/><line x1="321.3" y1="370.7" x2="326.1" y2="373.4" stroke="#e0da30" stroke-width="0.95"/><line x1="326.1" y1="373.4" x2="330.8" y2="376.2" stroke="#8a8a84" stroke-width="1.15"/><line x1="338.9" y1="370.7" x2="334.9" y2="373.4" stroke="#e0da30" stroke-width="0.95"/><line x1="334.9" y1="373.4" x2="330.8" y2="376.2" stroke="#8a8a84" stroke-width="1.15"/><line x1="338.9" y1="370.7" x2="343.7" y2="373.4" stroke="#e0da30" stroke-width="0.95"/><line x1="343.7" y1="373.4" x2="348.4" y2="376.2" stroke="#8a8a84" stroke-width="1.15"/><line x1="356.5" y1="370.7" x2="352.5" y2="373.4" stroke="#e0da30" stroke-width="0.95"/><line x1="352.5" y1="373.4" x2="348.4" y2="376.2" stroke="#8a8a84" stroke-width="1.15"/><line x1="356.5" y1="370.7" x2="361.2" y2="373.4" stroke="#e0da30" stroke-width="0.95"/><line x1="361.2" y1="373.4" x2="366.0" y2="376.2" stroke="#8a8a84" stroke-width="1.15"/><line x1="374.1" y1="370.7" x2="370.1" y2="373.4" stroke="#e0da30" stroke-width="0.95"/><line x1="370.1" y1="373.4" x2="366.0" y2="376.2" stroke="#8a8a84" stroke-width="1.15"/><line x1="374.1" y1="370.7" x2="378.9" y2="373.4" stroke="#e0da30" stroke-width="0.95"/><line x1="378.9" y1="373.4" x2="383.6" y2="376.2" stroke="#8a8a84" stroke-width="1.15"/><line x1="391.7" y1="370.7" x2="387.7" y2="373.4" stroke="#e0da30" stroke-width="0.95"/><line x1="387.7" y1="373.4" x2="383.6" y2="376.2" stroke="#8a8a84" stroke-width="1.15"/><line x1="391.7" y1="370.7" x2="396.5" y2="373.4" stroke="#e0da30" stroke-width="0.95"/><line x1="396.5" y1="373.4" x2="401.2" y2="376.2" stroke="#8a8a84" stroke-width="1.15"/><line x1="409.3" y1="370.7" x2="405.3" y2="373.4" stroke="#e0da30" stroke-width="0.95"/><line x1="405.3" y1="373.4" x2="401.2" y2="376.2" stroke="#8a8a84" stroke-width="1.15"/><line x1="409.3" y1="370.7" x2="414.1" y2="373.4" stroke="#e0da30" stroke-width="0.95"/><line x1="414.1" y1="373.4" x2="418.8" y2="376.2" stroke="#8a8a84" stroke-width="1.15"/><line x1="426.9" y1="370.7" x2="422.9" y2="373.4" stroke="#e0da30" stroke-width="0.95"/><line x1="422.9" y1="373.4" x2="418.8" y2="376.2" stroke="#8a8a84" stroke-width="1.15"/><line x1="426.9" y1="370.7" x2="431.7" y2="373.4" stroke="#e0da30" stroke-width="0.95"/><line x1="431.7" y1="373.4" x2="436.4" y2="376.2" stroke="#8a8a84" stroke-width="1.15"/><line x1="446.0" y1="370.7" x2="441.2" y2="373.4" stroke="#e0da30" stroke-width="0.95"/><line x1="441.2" y1="373.4" x2="436.4" y2="376.2" stroke="#8a8a84" stroke-width="1.15"/><circle cx="277.5" cy="355.6" r="2.35" fill="#ece630"/><circle cx="295.6" cy="355.6" r="2.35" fill="#ece630"/><circle cx="313.2" cy="355.6" r="2.35" fill="#ece630"/><circle cx="330.8" cy="355.6" r="2.35" fill="#ece630"/><circle cx="348.4" cy="355.6" r="2.35" fill="#ece630"/><circle cx="366.0" cy="355.6" r="2.35" fill="#ece630"/><circle cx="383.6" cy="355.6" r="2.35" fill="#ece630"/><circle cx="401.2" cy="355.6" r="2.35" fill="#ece630"/><circle cx="418.8" cy="355.6" r="2.35" fill="#ece630"/><circle cx="436.4" cy="355.6" r="2.35" fill="#ece630"/><circle cx="286.1" cy="370.7" r="2.35" fill="#ece630"/><circle cx="303.7" cy="370.7" r="2.35" fill="#ece630"/><circle cx="321.3" cy="370.7" r="2.35" fill="#ece630"/><circle cx="338.9" cy="370.7" r="2.35" fill="#ece630"/><circle cx="356.5" cy="370.7" r="2.35" fill="#ece630"/><circle cx="374.1" cy="370.7" r="2.35" fill="#ece630"/><circle cx="391.7" cy="370.7" r="2.35" fill="#ece630"/><circle cx="409.3" cy="370.7" r="2.35" fill="#ece630"/><circle cx="426.9" cy="370.7" r="2.35" fill="#ece630"/><circle cx="446.0" cy="370.7" r="2.35" fill="#ece630"/><circle cx="280.2" cy="346.5" r="2.25" fill="#e0e0dc" stroke="#6c6c66" stroke-width="1.8"/><circle cx="295.6" cy="345.5" r="2.25" fill="#e0e0dc" stroke="#6c6c66" stroke-width="1.8"/><circle cx="313.2" cy="345.5" r="2.25" fill="#e0e0dc" stroke="#6c6c66" stroke-width="1.8"/><circle cx="330.8" cy="345.5" r="2.25" fill="#e0e0dc" stroke="#6c6c66" stroke-width="1.8"/><circle cx="348.4" cy="345.5" r="2.25" fill="#e0e0dc" stroke="#6c6c66" stroke-width="1.8"/><circle cx="366.0" cy="345.5" r="2.25" fill="#e0e0dc" stroke="#6c6c66" stroke-width="1.8"/><circle cx="383.6" cy="345.5" r="2.25" fill="#e0e0dc" stroke="#6c6c66" stroke-width="1.8"/><circle cx="401.2" cy="345.5" r="2.25" fill="#e0e0dc" stroke="#6c6c66" stroke-width="1.8"/><circle cx="418.8" cy="345.5" r="2.25" fill="#e0e0dc" stroke="#6c6c66" stroke-width="1.8"/><circle cx="436.4" cy="345.5" r="2.25" fill="#e0e0dc" stroke="#6c6c66" stroke-width="1.8"/><circle cx="286.1" cy="361.0" r="2.25" fill="#e0e0dc" stroke="#6c6c66" stroke-width="1.8"/><circle cx="303.7" cy="361.0" r="2.25" fill="#e0e0dc" stroke="#6c6c66" stroke-width="1.8"/><circle cx="321.3" cy="361.0" r="2.25" fill="#e0e0dc" stroke="#6c6c66" stroke-width="1.8"/><circle cx="338.9" cy="361.0" r="2.25" fill="#e0e0dc" stroke="#6c6c66" stroke-width="1.8"/><circle cx="356.5" cy="361.0" r="2.25" fill="#e0e0dc" stroke="#6c6c66" stroke-width="1.8"/><circle cx="374.1" cy="361.0" r="2.25" fill="#e0e0dc" stroke="#6c6c66" stroke-width="1.8"/><circle cx="391.7" cy="361.0" r="2.25" fill="#e0e0dc" stroke="#6c6c66" stroke-width="1.8"/><circle cx="409.3" cy="361.0" r="2.25" fill="#e0e0dc" stroke="#6c6c66" stroke-width="1.8"/><circle cx="426.9" cy="361.0" r="2.25" fill="#e0e0dc" stroke="#6c6c66" stroke-width="1.8"/><circle cx="444.3" cy="362.1" r="2.25" fill="#e0e0dc" stroke="#6c6c66" stroke-width="1.8"/><circle cx="279.8" cy="376.8" r="2.25" fill="#e0e0dc" stroke="#6c6c66" stroke-width="1.8"/><circle cx="295.6" cy="376.2" r="2.25" fill="#e0e0dc" stroke="#6c6c66" stroke-width="1.8"/><circle cx="313.2" cy="376.2" r="2.25" fill="#e0e0dc" stroke="#6c6c66" stroke-width="1.8"/><circle cx="330.8" cy="376.2" r="2.25" fill="#e0e0dc" stroke="#6c6c66" stroke-width="1.8"/><circle cx="348.4" cy="376.2" r="2.25" fill="#e0e0dc" stroke="#6c6c66" stroke-width="1.8"/><circle cx="366.0" cy="376.2" r="2.25" fill="#e0e0dc" stroke="#6c6c66" stroke-width="1.8"/><circle cx="383.6" cy="376.2" r="2.25" fill="#e0e0dc" stroke="#6c6c66" stroke-width="1.8"/><circle cx="401.2" cy="376.2" r="2.25" fill="#e0e0dc" stroke="#6c6c66" stroke-width="1.8"/><circle cx="418.8" cy="376.2" r="2.25" fill="#e0e0dc" stroke="#6c6c66" stroke-width="1.8"/><circle cx="436.4" cy="376.2" r="2.25" fill="#e0e0dc" stroke="#6c6c66" stroke-width="1.8"/><line x1="508.2" y1="346.3" x2="506.9" y2="350.9" stroke="#8a8a84" stroke-width="1.15"/><line x1="506.9" y1="350.9" x2="505.6" y2="355.5" stroke="#e0da30" stroke-width="0.95"/><line x1="523.0" y1="345.3" x2="523.0" y2="350.4" stroke="#8a8a84" stroke-width="1.15"/><line x1="523.0" y1="350.4" x2="523.0" y2="355.5" stroke="#e0da30" stroke-width="0.95"/><line x1="539.7" y1="345.3" x2="539.7" y2="350.4" stroke="#8a8a84" stroke-width="1.15"/><line x1="539.7" y1="350.4" x2="539.7" y2="355.5" stroke="#e0da30" stroke-width="0.95"/><line x1="556.3" y1="345.3" x2="556.3" y2="350.4" stroke="#8a8a84" stroke-width="1.15"/><line x1="556.3" y1="350.4" x2="556.3" y2="355.5" stroke="#e0da30" stroke-width="0.95"/><line x1="573.0" y1="345.3" x2="573.0" y2="350.4" stroke="#8a8a84" stroke-width="1.15"/><line x1="573.0" y1="350.4" x2="573.0" y2="355.5" stroke="#e0da30" stroke-width="0.95"/><line x1="589.6" y1="345.3" x2="589.6" y2="350.4" stroke="#8a8a84" stroke-width="1.15"/><line x1="589.6" y1="350.4" x2="589.6" y2="355.5" stroke="#e0da30" stroke-width="0.95"/><line x1="606.3" y1="345.3" x2="606.3" y2="350.4" stroke="#8a8a84" stroke-width="1.15"/><line x1="606.3" y1="350.4" x2="606.3" y2="355.5" stroke="#e0da30" stroke-width="0.95"/><line x1="623.0" y1="345.3" x2="623.0" y2="350.4" stroke="#8a8a84" stroke-width="1.15"/><line x1="623.0" y1="350.4" x2="623.0" y2="355.5" stroke="#e0da30" stroke-width="0.95"/><line x1="639.6" y1="345.3" x2="639.6" y2="350.4" stroke="#8a8a84" stroke-width="1.15"/><line x1="639.6" y1="350.4" x2="639.6" y2="355.5" stroke="#e0da30" stroke-width="0.95"/><line x1="656.3" y1="345.3" x2="656.3" y2="350.4" stroke="#8a8a84" stroke-width="1.15"/><line x1="656.3" y1="350.4" x2="656.3" y2="355.5" stroke="#e0da30" stroke-width="0.95"/><line x1="672.9" y1="345.3" x2="672.9" y2="350.4" stroke="#8a8a84" stroke-width="1.15"/><line x1="672.9" y1="350.4" x2="672.9" y2="355.5" stroke="#e0da30" stroke-width="0.95"/><line x1="689.6" y1="345.3" x2="689.6" y2="350.4" stroke="#8a8a84" stroke-width="1.15"/><line x1="689.6" y1="350.4" x2="689.6" y2="355.5" stroke="#e0da30" stroke-width="0.95"/><line x1="704.9" y1="346.3" x2="705.7" y2="350.9" stroke="#8a8a84" stroke-width="1.15"/><line x1="705.7" y1="350.9" x2="706.5" y2="355.5" stroke="#e0da30" stroke-width="0.95"/><line x1="514.2" y1="360.5" x2="514.2" y2="365.1" stroke="#8a8a84" stroke-width="1.15"/><line x1="514.2" y1="365.1" x2="514.2" y2="369.6" stroke="#e0da30" stroke-width="0.95"/><line x1="530.9" y1="360.5" x2="530.9" y2="365.1" stroke="#8a8a84" stroke-width="1.15"/><line x1="530.9" y1="365.1" x2="530.9" y2="369.6" stroke="#e0da30" stroke-width="0.95"/><line x1="547.5" y1="360.5" x2="547.5" y2="365.1" stroke="#8a8a84" stroke-width="1.15"/><line x1="547.5" y1="365.1" x2="547.5" y2="369.6" stroke="#e0da30" stroke-width="0.95"/><line x1="564.2" y1="360.5" x2="564.2" y2="365.1" stroke="#8a8a84" stroke-width="1.15"/><line x1="564.2" y1="365.1" x2="564.2" y2="369.6" stroke="#e0da30" stroke-width="0.95"/><line x1="580.8" y1="360.5" x2="580.8" y2="365.1" stroke="#8a8a84" stroke-width="1.15"/><line x1="580.8" y1="365.1" x2="580.8" y2="369.6" stroke="#e0da30" stroke-width="0.95"/><line x1="597.5" y1="360.5" x2="597.5" y2="365.1" stroke="#8a8a84" stroke-width="1.15"/><line x1="597.5" y1="365.1" x2="597.5" y2="369.6" stroke="#e0da30" stroke-width="0.95"/><line x1="614.2" y1="360.5" x2="614.2" y2="365.1" stroke="#8a8a84" stroke-width="1.15"/><line x1="614.2" y1="365.1" x2="614.2" y2="369.6" stroke="#e0da30" stroke-width="0.95"/><line x1="630.8" y1="360.5" x2="630.8" y2="365.1" stroke="#8a8a84" stroke-width="1.15"/><line x1="630.8" y1="365.1" x2="630.8" y2="369.6" stroke="#e0da30" stroke-width="0.95"/><line x1="647.5" y1="360.5" x2="647.5" y2="365.1" stroke="#8a8a84" stroke-width="1.15"/><line x1="647.5" y1="365.1" x2="647.5" y2="369.6" stroke="#e0da30" stroke-width="0.95"/><line x1="664.1" y1="360.5" x2="664.1" y2="365.1" stroke="#8a8a84" stroke-width="1.15"/><line x1="664.1" y1="365.1" x2="664.1" y2="369.6" stroke="#e0da30" stroke-width="0.95"/><line x1="680.8" y1="360.5" x2="680.8" y2="365.1" stroke="#8a8a84" stroke-width="1.15"/><line x1="680.8" y1="365.1" x2="680.8" y2="369.6" stroke="#e0da30" stroke-width="0.95"/><line x1="697.5" y1="360.5" x2="697.5" y2="365.1" stroke="#8a8a84" stroke-width="1.15"/><line x1="697.5" y1="365.1" x2="697.5" y2="369.6" stroke="#e0da30" stroke-width="0.95"/><line x1="505.6" y1="355.5" x2="509.9" y2="358.0" stroke="#e0da30" stroke-width="0.95"/><line x1="509.9" y1="358.0" x2="514.2" y2="360.5" stroke="#8a8a84" stroke-width="1.15"/><line x1="523.0" y1="355.5" x2="518.6" y2="358.0" stroke="#e0da30" stroke-width="0.95"/><line x1="518.6" y1="358.0" x2="514.2" y2="360.5" stroke="#8a8a84" stroke-width="1.15"/><line x1="523.0" y1="355.5" x2="526.9" y2="358.0" stroke="#e0da30" stroke-width="0.95"/><line x1="526.9" y1="358.0" x2="530.9" y2="360.5" stroke="#8a8a84" stroke-width="1.15"/><line x1="539.7" y1="355.5" x2="535.3" y2="358.0" stroke="#e0da30" stroke-width="0.95"/><line x1="535.3" y1="358.0" x2="530.9" y2="360.5" stroke="#8a8a84" stroke-width="1.15"/><line x1="539.7" y1="355.5" x2="543.6" y2="358.0" stroke="#e0da30" stroke-width="0.95"/><line x1="543.6" y1="358.0" x2="547.5" y2="360.5" stroke="#8a8a84" stroke-width="1.15"/><line x1="556.3" y1="355.5" x2="551.9" y2="358.0" stroke="#e0da30" stroke-width="0.95"/><line x1="551.9" y1="358.0" x2="547.5" y2="360.5" stroke="#8a8a84" stroke-width="1.15"/><line x1="556.3" y1="355.5" x2="560.2" y2="358.0" stroke="#e0da30" stroke-width="0.95"/><line x1="560.2" y1="358.0" x2="564.2" y2="360.5" stroke="#8a8a84" stroke-width="1.15"/><line x1="573.0" y1="355.5" x2="568.6" y2="358.0" stroke="#e0da30" stroke-width="0.95"/><line x1="568.6" y1="358.0" x2="564.2" y2="360.5" stroke="#8a8a84" stroke-width="1.15"/><line x1="573.0" y1="355.5" x2="576.9" y2="358.0" stroke="#e0da30" stroke-width="0.95"/><line x1="576.9" y1="358.0" x2="580.8" y2="360.5" stroke="#8a8a84" stroke-width="1.15"/><line x1="589.6" y1="355.5" x2="585.2" y2="358.0" stroke="#e0da30" stroke-width="0.95"/><line x1="585.2" y1="358.0" x2="580.8" y2="360.5" stroke="#8a8a84" stroke-width="1.15"/><line x1="589.6" y1="355.5" x2="593.6" y2="358.0" stroke="#e0da30" stroke-width="0.95"/><line x1="593.6" y1="358.0" x2="597.5" y2="360.5" stroke="#8a8a84" stroke-width="1.15"/><line x1="606.3" y1="355.5" x2="601.9" y2="358.0" stroke="#e0da30" stroke-width="0.95"/><line x1="601.9" y1="358.0" x2="597.5" y2="360.5" stroke="#8a8a84" stroke-width="1.15"/><line x1="606.3" y1="355.5" x2="610.2" y2="358.0" stroke="#e0da30" stroke-width="0.95"/><line x1="610.2" y1="358.0" x2="614.2" y2="360.5" stroke="#8a8a84" stroke-width="1.15"/><line x1="623.0" y1="355.5" x2="618.6" y2="358.0" stroke="#e0da30" stroke-width="0.95"/><line x1="618.6" y1="358.0" x2="614.2" y2="360.5" stroke="#8a8a84" stroke-width="1.15"/><line x1="623.0" y1="355.5" x2="626.9" y2="358.0" stroke="#e0da30" stroke-width="0.95"/><line x1="626.9" y1="358.0" x2="630.8" y2="360.5" stroke="#8a8a84" stroke-width="1.15"/><line x1="639.6" y1="355.5" x2="635.2" y2="358.0" stroke="#e0da30" stroke-width="0.95"/><line x1="635.2" y1="358.0" x2="630.8" y2="360.5" stroke="#8a8a84" stroke-width="1.15"/><line x1="639.6" y1="355.5" x2="643.5" y2="358.0" stroke="#e0da30" stroke-width="0.95"/><line x1="643.5" y1="358.0" x2="647.5" y2="360.5" stroke="#8a8a84" stroke-width="1.15"/><line x1="656.3" y1="355.5" x2="651.9" y2="358.0" stroke="#e0da30" stroke-width="0.95"/><line x1="651.9" y1="358.0" x2="647.5" y2="360.5" stroke="#8a8a84" stroke-width="1.15"/><line x1="656.3" y1="355.5" x2="660.2" y2="358.0" stroke="#e0da30" stroke-width="0.95"/><line x1="660.2" y1="358.0" x2="664.1" y2="360.5" stroke="#8a8a84" stroke-width="1.15"/><line x1="672.9" y1="355.5" x2="668.5" y2="358.0" stroke="#e0da30" stroke-width="0.95"/><line x1="668.5" y1="358.0" x2="664.1" y2="360.5" stroke="#8a8a84" stroke-width="1.15"/><line x1="672.9" y1="355.5" x2="676.9" y2="358.0" stroke="#e0da30" stroke-width="0.95"/><line x1="676.9" y1="358.0" x2="680.8" y2="360.5" stroke="#8a8a84" stroke-width="1.15"/><line x1="689.6" y1="355.5" x2="685.2" y2="358.0" stroke="#e0da30" stroke-width="0.95"/><line x1="685.2" y1="358.0" x2="680.8" y2="360.5" stroke="#8a8a84" stroke-width="1.15"/><line x1="689.6" y1="355.5" x2="693.5" y2="358.0" stroke="#e0da30" stroke-width="0.95"/><line x1="693.5" y1="358.0" x2="697.5" y2="360.5" stroke="#8a8a84" stroke-width="1.15"/><line x1="706.5" y1="355.5" x2="702.0" y2="358.0" stroke="#e0da30" stroke-width="0.95"/><line x1="702.0" y1="358.0" x2="697.5" y2="360.5" stroke="#8a8a84" stroke-width="1.15"/><line x1="514.2" y1="369.6" x2="511.2" y2="372.3" stroke="#e0da30" stroke-width="0.95"/><line x1="511.2" y1="372.3" x2="508.2" y2="375.0" stroke="#8a8a84" stroke-width="1.15"/><line x1="514.2" y1="369.6" x2="518.6" y2="372.0" stroke="#e0da30" stroke-width="0.95"/><line x1="518.6" y1="372.0" x2="523.0" y2="374.4" stroke="#8a8a84" stroke-width="1.15"/><line x1="530.9" y1="369.6" x2="526.9" y2="372.0" stroke="#e0da30" stroke-width="0.95"/><line x1="526.9" y1="372.0" x2="523.0" y2="374.4" stroke="#8a8a84" stroke-width="1.15"/><line x1="530.9" y1="369.6" x2="535.3" y2="372.0" stroke="#e0da30" stroke-width="0.95"/><line x1="535.3" y1="372.0" x2="539.7" y2="374.4" stroke="#8a8a84" stroke-width="1.15"/><line x1="547.5" y1="369.6" x2="543.6" y2="372.0" stroke="#e0da30" stroke-width="0.95"/><line x1="543.6" y1="372.0" x2="539.7" y2="374.4" stroke="#8a8a84" stroke-width="1.15"/><line x1="547.5" y1="369.6" x2="551.9" y2="372.0" stroke="#e0da30" stroke-width="0.95"/><line x1="551.9" y1="372.0" x2="556.3" y2="374.4" stroke="#8a8a84" stroke-width="1.15"/><line x1="564.2" y1="369.6" x2="560.2" y2="372.0" stroke="#e0da30" stroke-width="0.95"/><line x1="560.2" y1="372.0" x2="556.3" y2="374.4" stroke="#8a8a84" stroke-width="1.15"/><line x1="564.2" y1="369.6" x2="568.6" y2="372.0" stroke="#e0da30" stroke-width="0.95"/><line x1="568.6" y1="372.0" x2="573.0" y2="374.4" stroke="#8a8a84" stroke-width="1.15"/><line x1="580.8" y1="369.6" x2="576.9" y2="372.0" stroke="#e0da30" stroke-width="0.95"/><line x1="576.9" y1="372.0" x2="573.0" y2="374.4" stroke="#8a8a84" stroke-width="1.15"/><line x1="580.8" y1="369.6" x2="585.2" y2="372.0" stroke="#e0da30" stroke-width="0.95"/><line x1="585.2" y1="372.0" x2="589.6" y2="374.4" stroke="#8a8a84" stroke-width="1.15"/><line x1="597.5" y1="369.6" x2="593.6" y2="372.0" stroke="#e0da30" stroke-width="0.95"/><line x1="593.6" y1="372.0" x2="589.6" y2="374.4" stroke="#8a8a84" stroke-width="1.15"/><line x1="597.5" y1="369.6" x2="601.9" y2="372.0" stroke="#e0da30" stroke-width="0.95"/><line x1="601.9" y1="372.0" x2="606.3" y2="374.4" stroke="#8a8a84" stroke-width="1.15"/><line x1="614.2" y1="369.6" x2="610.2" y2="372.0" stroke="#e0da30" stroke-width="0.95"/><line x1="610.2" y1="372.0" x2="606.3" y2="374.4" stroke="#8a8a84" stroke-width="1.15"/><line x1="614.2" y1="369.6" x2="618.6" y2="372.0" stroke="#e0da30" stroke-width="0.95"/><line x1="618.6" y1="372.0" x2="623.0" y2="374.4" stroke="#8a8a84" stroke-width="1.15"/><line x1="630.8" y1="369.6" x2="626.9" y2="372.0" stroke="#e0da30" stroke-width="0.95"/><line x1="626.9" y1="372.0" x2="623.0" y2="374.4" stroke="#8a8a84" stroke-width="1.15"/><line x1="630.8" y1="369.6" x2="635.2" y2="372.0" stroke="#e0da30" stroke-width="0.95"/><line x1="635.2" y1="372.0" x2="639.6" y2="374.4" stroke="#8a8a84" stroke-width="1.15"/><line x1="647.5" y1="369.6" x2="643.5" y2="372.0" stroke="#e0da30" stroke-width="0.95"/><line x1="643.5" y1="372.0" x2="639.6" y2="374.4" stroke="#8a8a84" stroke-width="1.15"/><line x1="647.5" y1="369.6" x2="651.9" y2="372.0" stroke="#e0da30" stroke-width="0.95"/><line x1="651.9" y1="372.0" x2="656.3" y2="374.4" stroke="#8a8a84" stroke-width="1.15"/><line x1="664.1" y1="369.6" x2="660.2" y2="372.0" stroke="#e0da30" stroke-width="0.95"/><line x1="660.2" y1="372.0" x2="656.3" y2="374.4" stroke="#8a8a84" stroke-width="1.15"/><line x1="664.1" y1="369.6" x2="668.5" y2="372.0" stroke="#e0da30" stroke-width="0.95"/><line x1="668.5" y1="372.0" x2="672.9" y2="374.4" stroke="#8a8a84" stroke-width="1.15"/><line x1="680.8" y1="369.6" x2="676.9" y2="372.0" stroke="#e0da30" stroke-width="0.95"/><line x1="676.9" y1="372.0" x2="672.9" y2="374.4" stroke="#8a8a84" stroke-width="1.15"/><line x1="680.8" y1="369.6" x2="685.2" y2="372.0" stroke="#e0da30" stroke-width="0.95"/><line x1="685.2" y1="372.0" x2="689.6" y2="374.4" stroke="#8a8a84" stroke-width="1.15"/><line x1="697.5" y1="369.6" x2="693.5" y2="372.0" stroke="#e0da30" stroke-width="0.95"/><line x1="693.5" y1="372.0" x2="689.6" y2="374.4" stroke="#8a8a84" stroke-width="1.15"/><line x1="697.5" y1="369.6" x2="701.0" y2="372.3" stroke="#e0da30" stroke-width="0.95"/><line x1="701.0" y1="372.3" x2="704.5" y2="375.0" stroke="#8a8a84" stroke-width="1.15"/><circle cx="505.6" cy="355.5" r="2.35" fill="#ece630"/><circle cx="523.0" cy="355.5" r="2.35" fill="#ece630"/><circle cx="539.7" cy="355.5" r="2.35" fill="#ece630"/><circle cx="556.3" cy="355.5" r="2.35" fill="#ece630"/><circle cx="573.0" cy="355.5" r="2.35" fill="#ece630"/><circle cx="589.6" cy="355.5" r="2.35" fill="#ece630"/><circle cx="606.3" cy="355.5" r="2.35" fill="#ece630"/><circle cx="623.0" cy="355.5" r="2.35" fill="#ece630"/><circle cx="639.6" cy="355.5" r="2.35" fill="#ece630"/><circle cx="656.3" cy="355.5" r="2.35" fill="#ece630"/><circle cx="672.9" cy="355.5" r="2.35" fill="#ece630"/><circle cx="689.6" cy="355.5" r="2.35" fill="#ece630"/><circle cx="706.5" cy="355.5" r="2.35" fill="#ece630"/><circle cx="514.2" cy="369.6" r="2.35" fill="#ece630"/><circle cx="530.9" cy="369.6" r="2.35" fill="#ece630"/><circle cx="547.5" cy="369.6" r="2.35" fill="#ece630"/><circle cx="564.2" cy="369.6" r="2.35" fill="#ece630"/><circle cx="580.8" cy="369.6" r="2.35" fill="#ece630"/><circle cx="597.5" cy="369.6" r="2.35" fill="#ece630"/><circle cx="614.2" cy="369.6" r="2.35" fill="#ece630"/><circle cx="630.8" cy="369.6" r="2.35" fill="#ece630"/><circle cx="647.5" cy="369.6" r="2.35" fill="#ece630"/><circle cx="664.1" cy="369.6" r="2.35" fill="#ece630"/><circle cx="680.8" cy="369.6" r="2.35" fill="#ece630"/><circle cx="697.5" cy="369.6" r="2.35" fill="#ece630"/><circle cx="508.2" cy="346.3" r="2.25" fill="#e0e0dc" stroke="#6c6c66" stroke-width="1.8"/><circle cx="523.0" cy="345.3" r="2.25" fill="#e0e0dc" stroke="#6c6c66" stroke-width="1.8"/><circle cx="539.7" cy="345.3" r="2.25" fill="#e0e0dc" stroke="#6c6c66" stroke-width="1.8"/><circle cx="556.3" cy="345.3" r="2.25" fill="#e0e0dc" stroke="#6c6c66" stroke-width="1.8"/><circle cx="573.0" cy="345.3" r="2.25" fill="#e0e0dc" stroke="#6c6c66" stroke-width="1.8"/><circle cx="589.6" cy="345.3" r="2.25" fill="#e0e0dc" stroke="#6c6c66" stroke-width="1.8"/><circle cx="606.3" cy="345.3" r="2.25" fill="#e0e0dc" stroke="#6c6c66" stroke-width="1.8"/><circle cx="623.0" cy="345.3" r="2.25" fill="#e0e0dc" stroke="#6c6c66" stroke-width="1.8"/><circle cx="639.6" cy="345.3" r="2.25" fill="#e0e0dc" stroke="#6c6c66" stroke-width="1.8"/><circle cx="656.3" cy="345.3" r="2.25" fill="#e0e0dc" stroke="#6c6c66" stroke-width="1.8"/><circle cx="672.9" cy="345.3" r="2.25" fill="#e0e0dc" stroke="#6c6c66" stroke-width="1.8"/><circle cx="689.6" cy="345.3" r="2.25" fill="#e0e0dc" stroke="#6c6c66" stroke-width="1.8"/><circle cx="704.9" cy="346.3" r="2.25" fill="#e0e0dc" stroke="#6c6c66" stroke-width="1.8"/><circle cx="514.2" cy="360.5" r="2.25" fill="#e0e0dc" stroke="#6c6c66" stroke-width="1.8"/><circle cx="530.9" cy="360.5" r="2.25" fill="#e0e0dc" stroke="#6c6c66" stroke-width="1.8"/><circle cx="547.5" cy="360.5" r="2.25" fill="#e0e0dc" stroke="#6c6c66" stroke-width="1.8"/><circle cx="564.2" cy="360.5" r="2.25" fill="#e0e0dc" stroke="#6c6c66" stroke-width="1.8"/><circle cx="580.8" cy="360.5" r="2.25" fill="#e0e0dc" stroke="#6c6c66" stroke-width="1.8"/><circle cx="597.5" cy="360.5" r="2.25" fill="#e0e0dc" stroke="#6c6c66" stroke-width="1.8"/><circle cx="614.2" cy="360.5" r="2.25" fill="#e0e0dc" stroke="#6c6c66" stroke-width="1.8"/><circle cx="630.8" cy="360.5" r="2.25" fill="#e0e0dc" stroke="#6c6c66" stroke-width="1.8"/><circle cx="647.5" cy="360.5" r="2.25" fill="#e0e0dc" stroke="#6c6c66" stroke-width="1.8"/><circle cx="664.1" cy="360.5" r="2.25" fill="#e0e0dc" stroke="#6c6c66" stroke-width="1.8"/><circle cx="680.8" cy="360.5" r="2.25" fill="#e0e0dc" stroke="#6c6c66" stroke-width="1.8"/><circle cx="697.5" cy="360.5" r="2.25" fill="#e0e0dc" stroke="#6c6c66" stroke-width="1.8"/><circle cx="508.2" cy="375.0" r="2.25" fill="#e0e0dc" stroke="#6c6c66" stroke-width="1.8"/><circle cx="523.0" cy="374.4" r="2.25" fill="#e0e0dc" stroke="#6c6c66" stroke-width="1.8"/><circle cx="539.7" cy="374.4" r="2.25" fill="#e0e0dc" stroke="#6c6c66" stroke-width="1.8"/><circle cx="556.3" cy="374.4" r="2.25" fill="#e0e0dc" stroke="#6c6c66" stroke-width="1.8"/><circle cx="573.0" cy="374.4" r="2.25" fill="#e0e0dc" stroke="#6c6c66" stroke-width="1.8"/><circle cx="589.6" cy="374.4" r="2.25" fill="#e0e0dc" stroke="#6c6c66" stroke-width="1.8"/><circle cx="606.3" cy="374.4" r="2.25" fill="#e0e0dc" stroke="#6c6c66" stroke-width="1.8"/><circle cx="623.0" cy="374.4" r="2.25" fill="#e0e0dc" stroke="#6c6c66" stroke-width="1.8"/><circle cx="639.6" cy="374.4" r="2.25" fill="#e0e0dc" stroke="#6c6c66" stroke-width="1.8"/><circle cx="656.3" cy="374.4" r="2.25" fill="#e0e0dc" stroke="#6c6c66" stroke-width="1.8"/><circle cx="672.9" cy="374.4" r="2.25" fill="#e0e0dc" stroke="#6c6c66" stroke-width="1.8"/><circle cx="689.6" cy="374.4" r="2.25" fill="#e0e0dc" stroke="#6c6c66" stroke-width="1.8"/><circle cx="704.5" cy="375.0" r="2.25" fill="#e0e0dc" stroke="#6c6c66" stroke-width="1.8"/><circle cx="174.8" cy="334.7" r="4.6" fill="url(#gW)"/><text x="182.2" y="336.8" font-size="11.5" font-weight="bold">w</text><circle cx="199.2" cy="334.3" r="3.5" fill="url(#gS)"/><text x="204.8" y="336.8" font-size="11.5" font-weight="bold">s</text><circle cx="402.2" cy="334.7" r="4.6" fill="url(#gW)"/><text x="409.6" y="336.8" font-size="11.5" font-weight="bold">w</text><circle cx="426.6" cy="334.3" r="3.5" fill="url(#gS)"/><text x="432.2" y="336.8" font-size="11.5" font-weight="bold">s</text><circle cx="630.8" cy="334.7" r="4.6" fill="url(#gW)"/><text x="638.2" y="336.8" font-size="11.5" font-weight="bold">w</text><circle cx="655.2" cy="334.3" r="3.5" fill="url(#gS)"/><text x="660.8" y="336.8" font-size="11.5" font-weight="bold">s</text>
</svg></body></html>
